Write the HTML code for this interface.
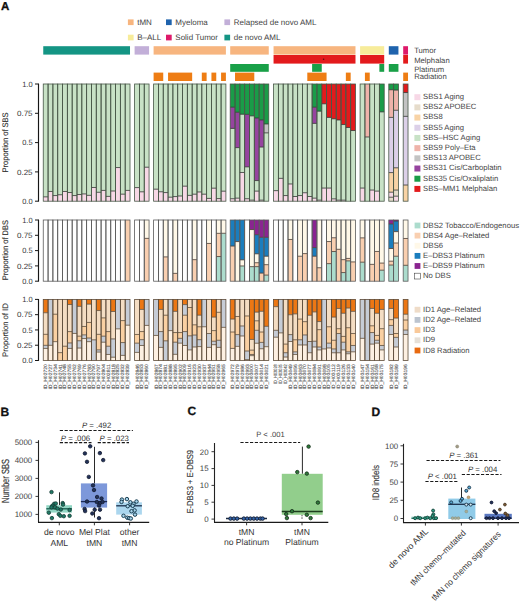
<!DOCTYPE html>
<html><head><meta charset="utf-8"><style>
html,body{margin:0;padding:0;background:#fff;}
body{width:520px;height:603px;overflow:hidden;font-family:"Liberation Sans", sans-serif;}
svg{display:block;text-rendering:geometricPrecision;}
text{stroke:none;}
text.sl{stroke:#5a5a5a;stroke-width:0.12px;}
text.pl{stroke:#111;stroke-width:0.3px;}
text.lt{fill:#363636;}
text.yl{stroke:#333;stroke-width:0.14px;}
</style></head><body>
<svg width="520" height="603" viewBox="0 0 520 603" font-family='"Liberation Sans", sans-serif'>
<rect width="520" height="603" fill="#fff"/>
<text x="1" y="9.8" font-size="11.5" font-weight="bold" class="pl" fill="#111">A</text>
<text x="0.6" y="415.7" font-size="12" font-weight="bold" class="pl" fill="#111">B</text>
<text x="187.4" y="415.4" font-size="12" font-weight="bold" class="pl" fill="#111">C</text>
<text x="371.4" y="415.5" font-size="12" font-weight="bold" class="pl" fill="#111">D</text>
<rect x="127.89999999999999" y="19.400000000000002" width="5.7" height="5.7" fill="#f7b57f"/>
<text x="137.2" y="25.1" font-size="8.0" fill="#444444">tMN</text>
<rect x="166.0" y="19.400000000000002" width="5.7" height="5.7" fill="#1f63ad"/>
<text x="175.29999999999998" y="25.1" font-size="8.0" fill="#444444">Myeloma</text>
<rect x="224.4" y="19.400000000000002" width="5.7" height="5.7" fill="#c2afd8"/>
<text x="233.7" y="25.1" font-size="8.0" fill="#444444">Relapsed de novo AML</text>
<rect x="127.89999999999999" y="34.7" width="5.7" height="5.7" fill="#f7ec9a"/>
<text x="137.2" y="40.4" font-size="8.0" fill="#444444">B–ALL</text>
<rect x="166.0" y="34.7" width="5.7" height="5.7" fill="#de1a6a"/>
<text x="175.29999999999998" y="40.4" font-size="8.0" fill="#444444">Solid Tumor</text>
<rect x="224.4" y="34.7" width="5.7" height="5.7" fill="#149584"/>
<text x="233.7" y="40.4" font-size="8.0" fill="#444444">de novo AML</text>
<rect x="43.25" y="46.2" width="86.76" height="8.40" fill="#149584"/>
<rect x="134.60" y="46.2" width="14.46" height="8.40" fill="#c2afd8"/>
<rect x="153.60" y="46.2" width="72.30" height="8.40" fill="#f7b57f"/>
<rect x="230.20" y="46.2" width="38.56" height="8.40" fill="#f7b57f"/>
<rect x="273.55" y="46.2" width="81.94" height="8.40" fill="#f7b57f"/>
<rect x="360.10" y="46.2" width="24.10" height="8.40" fill="#f7ec9a"/>
<rect x="388.80" y="46.2" width="9.64" height="8.40" fill="#1f63ad"/>
<rect x="403.20" y="46.2" width="4.82" height="8.40" fill="#de1a6a"/>
<rect x="273.55" y="55.0" width="81.94" height="8.60" fill="#e31a1c"/>
<rect x="360.10" y="55.0" width="24.10" height="8.60" fill="#e31a1c"/>
<rect x="403.20" y="55.0" width="4.82" height="8.60" fill="#e31a1c"/>
<circle cx="323.6" cy="59.2" r="0.8" fill="#5a1010"/>
<rect x="230.20" y="64.0" width="38.56" height="7.80" fill="#19a048"/>
<rect x="312.11" y="64.0" width="9.64" height="7.80" fill="#19a048"/>
<rect x="379.38" y="64.0" width="4.82" height="7.80" fill="#19a048"/>
<rect x="388.80" y="64.0" width="9.64" height="7.80" fill="#19a048"/>
<rect x="153.60" y="72.6" width="9.64" height="8.40" fill="#ee7d14"/>
<rect x="168.06" y="72.6" width="24.10" height="8.40" fill="#ee7d14"/>
<rect x="201.80" y="72.6" width="4.82" height="8.40" fill="#ee7d14"/>
<rect x="211.44" y="72.6" width="4.82" height="8.40" fill="#ee7d14"/>
<rect x="221.08" y="72.6" width="4.82" height="8.40" fill="#ee7d14"/>
<rect x="235.02" y="72.6" width="19.28" height="8.40" fill="#ee7d14"/>
<rect x="307.29" y="72.6" width="19.28" height="8.40" fill="#ee7d14"/>
<rect x="345.85" y="72.6" width="4.82" height="8.40" fill="#ee7d14"/>
<rect x="364.92" y="72.6" width="4.82" height="8.40" fill="#ee7d14"/>
<rect x="403.20" y="72.6" width="4.82" height="8.40" fill="#ee7d14"/>
<text x="414.2" y="53.2" font-size="7.7" fill="#444444">Tumor</text>
<text x="414.2" y="62.8" font-size="7.7" fill="#444444">Melphalan</text>
<text x="414.2" y="71.5" font-size="7.7" fill="#444444">Platinum</text>
<text x="414.2" y="79.2" font-size="7.7" fill="#444444">Radiation</text>
<rect x="43.25" y="196.86" width="4.82" height="4.34" fill="#f7d8e6"/><rect x="43.25" y="84.00" width="4.82" height="112.86" fill="#c8e2c6"/><rect x="48.07" y="191.47" width="4.82" height="9.73" fill="#f7d8e6"/><rect x="48.07" y="84.00" width="4.82" height="107.47" fill="#c8e2c6"/><rect x="52.89" y="195.57" width="4.82" height="5.63" fill="#f7d8e6"/><rect x="52.89" y="84.00" width="4.82" height="111.57" fill="#c8e2c6"/><rect x="57.71" y="194.75" width="4.82" height="6.45" fill="#f7d8e6"/><rect x="57.71" y="84.00" width="4.82" height="110.75" fill="#c8e2c6"/><rect x="62.53" y="191.47" width="4.82" height="9.73" fill="#f7d8e6"/><rect x="62.53" y="84.00" width="4.82" height="107.47" fill="#c8e2c6"/><rect x="67.35" y="192.53" width="4.82" height="8.67" fill="#f7d8e6"/><rect x="67.35" y="84.00" width="4.82" height="108.53" fill="#c8e2c6"/><rect x="72.17" y="195.57" width="4.82" height="5.63" fill="#f7d8e6"/><rect x="72.17" y="84.00" width="4.82" height="111.57" fill="#c8e2c6"/><rect x="76.99" y="194.52" width="4.82" height="6.68" fill="#f7d8e6"/><rect x="76.99" y="84.00" width="4.82" height="110.52" fill="#c8e2c6"/><rect x="81.81" y="193.93" width="4.82" height="7.27" fill="#f7d8e6"/><rect x="81.81" y="84.00" width="4.82" height="109.93" fill="#c8e2c6"/><rect x="86.63" y="195.34" width="4.82" height="5.86" fill="#f7d8e6"/><rect x="86.63" y="84.00" width="4.82" height="111.34" fill="#c8e2c6"/><rect x="91.45" y="187.49" width="4.82" height="13.71" fill="#f7d8e6"/><rect x="91.45" y="84.00" width="4.82" height="103.49" fill="#c8e2c6"/><rect x="96.27" y="192.29" width="4.82" height="8.91" fill="#f7d8e6"/><rect x="96.27" y="84.00" width="4.82" height="108.29" fill="#c8e2c6"/><rect x="101.09" y="190.42" width="4.82" height="10.78" fill="#f7d8e6"/><rect x="101.09" y="84.00" width="4.82" height="106.42" fill="#c8e2c6"/><rect x="105.91" y="196.39" width="4.82" height="4.81" fill="#f7d8e6"/><rect x="105.91" y="84.00" width="4.82" height="112.39" fill="#c8e2c6"/><rect x="110.73" y="191.00" width="4.82" height="10.20" fill="#f7d8e6"/><rect x="110.73" y="84.00" width="4.82" height="107.00" fill="#c8e2c6"/><rect x="115.55" y="167.56" width="4.82" height="33.64" fill="#f7d8e6"/><rect x="115.55" y="84.00" width="4.82" height="83.56" fill="#c8e2c6"/><rect x="120.37" y="194.17" width="4.82" height="7.03" fill="#f7d8e6"/><rect x="120.37" y="84.00" width="4.82" height="110.17" fill="#c8e2c6"/><rect x="125.19" y="190.42" width="4.82" height="10.78" fill="#f7d8e6"/><rect x="125.19" y="84.00" width="4.82" height="106.42" fill="#c8e2c6"/><rect x="134.60" y="187.60" width="4.82" height="13.60" fill="#f7d8e6"/><rect x="134.60" y="84.00" width="4.82" height="103.60" fill="#c8e2c6"/><rect x="139.42" y="191.82" width="4.82" height="9.38" fill="#f7d8e6"/><rect x="139.42" y="84.00" width="4.82" height="107.82" fill="#c8e2c6"/><rect x="144.24" y="167.21" width="4.82" height="33.99" fill="#f7d8e6"/><rect x="144.24" y="84.00" width="4.82" height="83.21" fill="#c8e2c6"/><rect x="153.60" y="189.18" width="4.82" height="12.02" fill="#f7d8e6"/><rect x="153.60" y="84.00" width="4.82" height="105.18" fill="#c8e2c6"/><rect x="158.42" y="191.78" width="4.82" height="9.42" fill="#f7d8e6"/><rect x="158.42" y="84.00" width="4.82" height="107.78" fill="#c8e2c6"/><rect x="163.24" y="192.59" width="4.82" height="8.61" fill="#f7d8e6"/><rect x="163.24" y="84.00" width="4.82" height="108.59" fill="#c8e2c6"/><rect x="168.06" y="197.19" width="4.82" height="4.01" fill="#f7d8e6"/><rect x="168.06" y="84.00" width="4.82" height="113.19" fill="#c8e2c6"/><rect x="172.88" y="196.59" width="4.82" height="4.61" fill="#f7d8e6"/><rect x="172.88" y="84.00" width="4.82" height="112.59" fill="#c8e2c6"/><rect x="177.70" y="195.99" width="4.82" height="5.21" fill="#f7d8e6"/><rect x="177.70" y="84.00" width="4.82" height="111.99" fill="#c8e2c6"/><rect x="182.52" y="186.17" width="4.82" height="15.03" fill="#f7d8e6"/><rect x="182.52" y="84.00" width="4.82" height="102.17" fill="#c8e2c6"/><rect x="187.34" y="195.39" width="4.82" height="5.81" fill="#f7d8e6"/><rect x="187.34" y="84.00" width="4.82" height="111.39" fill="#c8e2c6"/><rect x="192.16" y="194.19" width="4.82" height="7.01" fill="#f7d8e6"/><rect x="192.16" y="84.00" width="4.82" height="110.19" fill="#c8e2c6"/><rect x="196.98" y="191.98" width="4.82" height="9.22" fill="#f7d8e6"/><rect x="196.98" y="84.00" width="4.82" height="107.98" fill="#c8e2c6"/><rect x="201.80" y="194.19" width="4.82" height="7.01" fill="#f7d8e6"/><rect x="201.80" y="84.00" width="4.82" height="110.19" fill="#c8e2c6"/><rect x="206.62" y="198.40" width="4.82" height="2.80" fill="#f7d8e6"/><rect x="206.62" y="84.00" width="4.82" height="114.40" fill="#c8e2c6"/><rect x="211.44" y="188.18" width="4.82" height="13.02" fill="#f7d8e6"/><rect x="211.44" y="84.00" width="4.82" height="104.18" fill="#c8e2c6"/><rect x="216.26" y="198.60" width="4.82" height="2.60" fill="#f7d8e6"/><rect x="216.26" y="84.00" width="4.82" height="114.60" fill="#c8e2c6"/><rect x="221.08" y="191.18" width="4.82" height="10.02" fill="#f7d8e6"/><rect x="221.08" y="84.00" width="4.82" height="107.18" fill="#c8e2c6"/><rect x="230.20" y="198.74" width="4.82" height="2.46" fill="#f7d8e6"/><rect x="230.20" y="128.42" width="4.82" height="70.32" fill="#c8e2c6"/><rect x="230.20" y="107.21" width="4.82" height="21.21" fill="#96449f"/><rect x="230.20" y="84.00" width="4.82" height="23.21" fill="#1a9c48"/><rect x="235.02" y="198.15" width="4.82" height="3.05" fill="#f7d8e6"/><rect x="235.02" y="147.64" width="4.82" height="50.51" fill="#c8e2c6"/><rect x="235.02" y="112.25" width="4.82" height="35.39" fill="#96449f"/><rect x="235.02" y="84.00" width="4.82" height="28.25" fill="#1a9c48"/><rect x="239.84" y="172.49" width="4.82" height="28.71" fill="#f7d8e6"/><rect x="239.84" y="114.24" width="4.82" height="58.25" fill="#c8e2c6"/><rect x="239.84" y="84.00" width="4.82" height="30.24" fill="#1a9c48"/><rect x="244.66" y="198.74" width="4.82" height="2.46" fill="#f7d8e6"/><rect x="244.66" y="166.86" width="4.82" height="31.88" fill="#c8e2c6"/><rect x="244.66" y="114.35" width="4.82" height="52.51" fill="#96449f"/><rect x="244.66" y="84.00" width="4.82" height="30.35" fill="#1a9c48"/><rect x="249.48" y="200.15" width="4.82" height="1.05" fill="#f7d8e6"/><rect x="249.48" y="115.88" width="4.82" height="84.27" fill="#c8e2c6"/><rect x="249.48" y="84.00" width="4.82" height="31.88" fill="#1a9c48"/><rect x="254.30" y="191.12" width="4.82" height="10.08" fill="#f7d8e6"/><rect x="254.30" y="180.57" width="4.82" height="10.55" fill="#c8e2c6"/><rect x="254.30" y="117.99" width="4.82" height="62.58" fill="#96449f"/><rect x="254.30" y="84.00" width="4.82" height="33.99" fill="#1a9c48"/><rect x="259.12" y="200.15" width="4.82" height="1.05" fill="#f7d8e6"/><rect x="259.12" y="147.05" width="4.82" height="53.09" fill="#c8e2c6"/><rect x="259.12" y="119.98" width="4.82" height="27.07" fill="#96449f"/><rect x="259.12" y="84.00" width="4.82" height="35.98" fill="#1a9c48"/><rect x="263.94" y="132.87" width="4.82" height="68.33" fill="#c8e2c6"/><rect x="263.94" y="123.97" width="4.82" height="8.91" fill="#c3c3c3"/><rect x="263.94" y="84.00" width="4.82" height="39.97" fill="#1a9c48"/><rect x="273.55" y="190.65" width="4.82" height="10.55" fill="#f7d8e6"/><rect x="273.55" y="84.00" width="4.82" height="106.65" fill="#c8e2c6"/><rect x="278.37" y="178.35" width="4.82" height="22.85" fill="#f7d8e6"/><rect x="278.37" y="84.00" width="4.82" height="94.35" fill="#c8e2c6"/><rect x="283.19" y="195.57" width="4.82" height="5.63" fill="#f7d8e6"/><rect x="283.19" y="84.00" width="4.82" height="111.57" fill="#c8e2c6"/><rect x="288.01" y="183.97" width="4.82" height="17.23" fill="#f7d8e6"/><rect x="288.01" y="84.00" width="4.82" height="99.97" fill="#c8e2c6"/><rect x="292.83" y="196.51" width="4.82" height="4.69" fill="#f7d8e6"/><rect x="292.83" y="84.00" width="4.82" height="112.51" fill="#c8e2c6"/><rect x="297.65" y="195.57" width="4.82" height="5.63" fill="#f7d8e6"/><rect x="297.65" y="84.00" width="4.82" height="111.57" fill="#c8e2c6"/><rect x="302.47" y="192.76" width="4.82" height="8.44" fill="#f7d8e6"/><rect x="302.47" y="84.00" width="4.82" height="108.76" fill="#c8e2c6"/><rect x="307.29" y="196.51" width="4.82" height="4.69" fill="#f7d8e6"/><rect x="307.29" y="84.00" width="4.82" height="112.51" fill="#c8e2c6"/><rect x="312.11" y="198.15" width="4.82" height="3.05" fill="#f7d8e6"/><rect x="312.11" y="123.38" width="4.82" height="74.77" fill="#c8e2c6"/><rect x="312.11" y="107.21" width="4.82" height="16.17" fill="#96449f"/><rect x="312.11" y="84.00" width="4.82" height="23.21" fill="#1a9c48"/><rect x="316.93" y="200.15" width="4.82" height="1.05" fill="#f7d8e6"/><rect x="316.93" y="111.19" width="4.82" height="88.95" fill="#c8e2c6"/><rect x="316.93" y="84.00" width="4.82" height="27.19" fill="#1a9c48"/><rect x="321.75" y="188.07" width="4.82" height="13.13" fill="#f7d8e6"/><rect x="321.75" y="103.81" width="4.82" height="84.27" fill="#c8e2c6"/><rect x="321.75" y="84.00" width="4.82" height="19.81" fill="#e31a1c"/><rect x="326.57" y="188.07" width="4.82" height="13.13" fill="#f7d8e6"/><rect x="326.57" y="117.40" width="4.82" height="70.67" fill="#c8e2c6"/><rect x="326.57" y="84.00" width="4.82" height="33.40" fill="#e31a1c"/><rect x="331.39" y="198.86" width="4.82" height="2.34" fill="#f7d8e6"/><rect x="331.39" y="118.81" width="4.82" height="80.05" fill="#c8e2c6"/><rect x="331.39" y="84.00" width="4.82" height="34.81" fill="#e31a1c"/><rect x="336.21" y="200.15" width="4.82" height="1.05" fill="#f7d8e6"/><rect x="336.21" y="119.98" width="4.82" height="80.16" fill="#c8e2c6"/><rect x="336.21" y="84.00" width="4.82" height="35.98" fill="#e31a1c"/><rect x="341.03" y="200.15" width="4.82" height="1.05" fill="#f7d8e6"/><rect x="341.03" y="124.55" width="4.82" height="75.59" fill="#c8e2c6"/><rect x="341.03" y="84.00" width="4.82" height="40.55" fill="#e31a1c"/><rect x="345.85" y="127.48" width="4.82" height="73.72" fill="#c8e2c6"/><rect x="345.85" y="84.00" width="4.82" height="43.48" fill="#e31a1c"/><rect x="350.67" y="130.53" width="4.82" height="70.67" fill="#c8e2c6"/><rect x="350.67" y="84.00" width="4.82" height="46.53" fill="#e31a1c"/><rect x="360.10" y="188.07" width="4.82" height="13.13" fill="#f7d8e6"/><rect x="360.10" y="84.00" width="4.82" height="104.07" fill="#c8e2c6"/><rect x="364.92" y="136.97" width="4.82" height="64.23" fill="#c8e2c6"/><rect x="364.92" y="84.00" width="4.82" height="52.97" fill="#efb3aa"/><rect x="369.74" y="190.07" width="4.82" height="11.13" fill="#f7d8e6"/><rect x="369.74" y="84.00" width="4.82" height="106.07" fill="#c8e2c6"/><rect x="374.56" y="191.12" width="4.82" height="10.08" fill="#f7d8e6"/><rect x="374.56" y="84.00" width="4.82" height="107.12" fill="#c8e2c6"/><rect x="379.38" y="111.89" width="4.82" height="89.31" fill="#c8e2c6"/><rect x="379.38" y="84.00" width="4.82" height="27.89" fill="#1a9c48"/><rect x="388.80" y="197.22" width="4.82" height="3.98" fill="#e6dccb"/><rect x="388.80" y="192.18" width="4.82" height="5.04" fill="#f7d8e6"/><rect x="388.80" y="172.60" width="4.82" height="19.57" fill="#f8d3a6"/><rect x="388.80" y="117.40" width="4.82" height="55.20" fill="#dcd0e8"/><rect x="388.80" y="89.74" width="4.82" height="27.66" fill="#efb3aa"/><rect x="388.80" y="84.00" width="4.82" height="5.74" fill="#1a9c48"/><rect x="393.62" y="196.16" width="4.82" height="5.04" fill="#f7d8e6"/><rect x="393.62" y="190.07" width="4.82" height="6.09" fill="#e6dccb"/><rect x="393.62" y="167.80" width="4.82" height="22.27" fill="#f8d3a6"/><rect x="393.62" y="110.25" width="4.82" height="57.55" fill="#dcd0e8"/><rect x="393.62" y="90.09" width="4.82" height="20.16" fill="#efb3aa"/><rect x="393.62" y="84.00" width="4.82" height="6.09" fill="#1a9c48"/><rect x="403.20" y="185.03" width="4.82" height="16.17" fill="#f8d3a6"/><rect x="403.20" y="116.35" width="4.82" height="68.68" fill="#dcd0e8"/><rect x="403.20" y="92.56" width="4.82" height="23.79" fill="#c3c3c3"/><rect x="403.20" y="84.00" width="4.82" height="8.56" fill="#e31a1c"/><line x1="43.25" x2="48.07" y1="196.86" y2="196.86" stroke="#333" stroke-width="0.8"/><rect x="43.25" y="84.00" width="4.82" height="117.20" fill="none" stroke="#465646" stroke-width="0.8"/><line x1="48.07" x2="52.89" y1="191.47" y2="191.47" stroke="#333" stroke-width="0.8"/><rect x="48.07" y="84.00" width="4.82" height="117.20" fill="none" stroke="#465646" stroke-width="0.8"/><line x1="52.89" x2="57.71" y1="195.57" y2="195.57" stroke="#333" stroke-width="0.8"/><rect x="52.89" y="84.00" width="4.82" height="117.20" fill="none" stroke="#465646" stroke-width="0.8"/><line x1="57.71" x2="62.53" y1="194.75" y2="194.75" stroke="#333" stroke-width="0.8"/><rect x="57.71" y="84.00" width="4.82" height="117.20" fill="none" stroke="#465646" stroke-width="0.8"/><line x1="62.53" x2="67.35" y1="191.47" y2="191.47" stroke="#333" stroke-width="0.8"/><rect x="62.53" y="84.00" width="4.82" height="117.20" fill="none" stroke="#465646" stroke-width="0.8"/><line x1="67.35" x2="72.17" y1="192.53" y2="192.53" stroke="#333" stroke-width="0.8"/><rect x="67.35" y="84.00" width="4.82" height="117.20" fill="none" stroke="#465646" stroke-width="0.8"/><line x1="72.17" x2="76.99" y1="195.57" y2="195.57" stroke="#333" stroke-width="0.8"/><rect x="72.17" y="84.00" width="4.82" height="117.20" fill="none" stroke="#465646" stroke-width="0.8"/><line x1="76.99" x2="81.81" y1="194.52" y2="194.52" stroke="#333" stroke-width="0.8"/><rect x="76.99" y="84.00" width="4.82" height="117.20" fill="none" stroke="#465646" stroke-width="0.8"/><line x1="81.81" x2="86.63" y1="193.93" y2="193.93" stroke="#333" stroke-width="0.8"/><rect x="81.81" y="84.00" width="4.82" height="117.20" fill="none" stroke="#465646" stroke-width="0.8"/><line x1="86.63" x2="91.45" y1="195.34" y2="195.34" stroke="#333" stroke-width="0.8"/><rect x="86.63" y="84.00" width="4.82" height="117.20" fill="none" stroke="#465646" stroke-width="0.8"/><line x1="91.45" x2="96.27" y1="187.49" y2="187.49" stroke="#333" stroke-width="0.8"/><rect x="91.45" y="84.00" width="4.82" height="117.20" fill="none" stroke="#465646" stroke-width="0.8"/><line x1="96.27" x2="101.09" y1="192.29" y2="192.29" stroke="#333" stroke-width="0.8"/><rect x="96.27" y="84.00" width="4.82" height="117.20" fill="none" stroke="#465646" stroke-width="0.8"/><line x1="101.09" x2="105.91" y1="190.42" y2="190.42" stroke="#333" stroke-width="0.8"/><rect x="101.09" y="84.00" width="4.82" height="117.20" fill="none" stroke="#465646" stroke-width="0.8"/><line x1="105.91" x2="110.73" y1="196.39" y2="196.39" stroke="#333" stroke-width="0.8"/><rect x="105.91" y="84.00" width="4.82" height="117.20" fill="none" stroke="#465646" stroke-width="0.8"/><line x1="110.73" x2="115.55" y1="191.00" y2="191.00" stroke="#333" stroke-width="0.8"/><rect x="110.73" y="84.00" width="4.82" height="117.20" fill="none" stroke="#465646" stroke-width="0.8"/><line x1="115.55" x2="120.37" y1="167.56" y2="167.56" stroke="#333" stroke-width="0.8"/><rect x="115.55" y="84.00" width="4.82" height="117.20" fill="none" stroke="#465646" stroke-width="0.8"/><line x1="120.37" x2="125.19" y1="194.17" y2="194.17" stroke="#333" stroke-width="0.8"/><rect x="120.37" y="84.00" width="4.82" height="117.20" fill="none" stroke="#465646" stroke-width="0.8"/><line x1="125.19" x2="130.01" y1="190.42" y2="190.42" stroke="#333" stroke-width="0.8"/><rect x="125.19" y="84.00" width="4.82" height="117.20" fill="none" stroke="#465646" stroke-width="0.8"/><line x1="134.60" x2="139.42" y1="187.60" y2="187.60" stroke="#333" stroke-width="0.8"/><rect x="134.60" y="84.00" width="4.82" height="117.20" fill="none" stroke="#465646" stroke-width="0.8"/><line x1="139.42" x2="144.24" y1="191.82" y2="191.82" stroke="#333" stroke-width="0.8"/><rect x="139.42" y="84.00" width="4.82" height="117.20" fill="none" stroke="#465646" stroke-width="0.8"/><line x1="144.24" x2="149.06" y1="167.21" y2="167.21" stroke="#333" stroke-width="0.8"/><rect x="144.24" y="84.00" width="4.82" height="117.20" fill="none" stroke="#465646" stroke-width="0.8"/><line x1="153.60" x2="158.42" y1="189.18" y2="189.18" stroke="#333" stroke-width="0.8"/><rect x="153.60" y="84.00" width="4.82" height="117.20" fill="none" stroke="#465646" stroke-width="0.8"/><line x1="158.42" x2="163.24" y1="191.78" y2="191.78" stroke="#333" stroke-width="0.8"/><rect x="158.42" y="84.00" width="4.82" height="117.20" fill="none" stroke="#465646" stroke-width="0.8"/><line x1="163.24" x2="168.06" y1="192.59" y2="192.59" stroke="#333" stroke-width="0.8"/><rect x="163.24" y="84.00" width="4.82" height="117.20" fill="none" stroke="#465646" stroke-width="0.8"/><line x1="168.06" x2="172.88" y1="197.19" y2="197.19" stroke="#333" stroke-width="0.8"/><rect x="168.06" y="84.00" width="4.82" height="117.20" fill="none" stroke="#465646" stroke-width="0.8"/><line x1="172.88" x2="177.70" y1="196.59" y2="196.59" stroke="#333" stroke-width="0.8"/><rect x="172.88" y="84.00" width="4.82" height="117.20" fill="none" stroke="#465646" stroke-width="0.8"/><line x1="177.70" x2="182.52" y1="195.99" y2="195.99" stroke="#333" stroke-width="0.8"/><rect x="177.70" y="84.00" width="4.82" height="117.20" fill="none" stroke="#465646" stroke-width="0.8"/><line x1="182.52" x2="187.34" y1="186.17" y2="186.17" stroke="#333" stroke-width="0.8"/><rect x="182.52" y="84.00" width="4.82" height="117.20" fill="none" stroke="#465646" stroke-width="0.8"/><line x1="187.34" x2="192.16" y1="195.39" y2="195.39" stroke="#333" stroke-width="0.8"/><rect x="187.34" y="84.00" width="4.82" height="117.20" fill="none" stroke="#465646" stroke-width="0.8"/><line x1="192.16" x2="196.98" y1="194.19" y2="194.19" stroke="#333" stroke-width="0.8"/><rect x="192.16" y="84.00" width="4.82" height="117.20" fill="none" stroke="#465646" stroke-width="0.8"/><line x1="196.98" x2="201.80" y1="191.98" y2="191.98" stroke="#333" stroke-width="0.8"/><rect x="196.98" y="84.00" width="4.82" height="117.20" fill="none" stroke="#465646" stroke-width="0.8"/><line x1="201.80" x2="206.62" y1="194.19" y2="194.19" stroke="#333" stroke-width="0.8"/><rect x="201.80" y="84.00" width="4.82" height="117.20" fill="none" stroke="#465646" stroke-width="0.8"/><line x1="206.62" x2="211.44" y1="198.40" y2="198.40" stroke="#333" stroke-width="0.8"/><rect x="206.62" y="84.00" width="4.82" height="117.20" fill="none" stroke="#465646" stroke-width="0.8"/><line x1="211.44" x2="216.26" y1="188.18" y2="188.18" stroke="#333" stroke-width="0.8"/><rect x="211.44" y="84.00" width="4.82" height="117.20" fill="none" stroke="#465646" stroke-width="0.8"/><line x1="216.26" x2="221.08" y1="198.60" y2="198.60" stroke="#333" stroke-width="0.8"/><rect x="216.26" y="84.00" width="4.82" height="117.20" fill="none" stroke="#465646" stroke-width="0.8"/><line x1="221.08" x2="225.90" y1="191.18" y2="191.18" stroke="#333" stroke-width="0.8"/><rect x="221.08" y="84.00" width="4.82" height="117.20" fill="none" stroke="#465646" stroke-width="0.8"/><line x1="230.20" x2="235.02" y1="198.74" y2="198.74" stroke="#333" stroke-width="0.8"/><line x1="230.20" x2="235.02" y1="128.42" y2="128.42" stroke="#333" stroke-width="0.8"/><line x1="230.20" x2="235.02" y1="107.21" y2="107.21" stroke="#333" stroke-width="0.8"/><rect x="230.20" y="84.00" width="4.82" height="117.20" fill="none" stroke="#465646" stroke-width="0.8"/><line x1="235.02" x2="239.84" y1="198.15" y2="198.15" stroke="#333" stroke-width="0.8"/><line x1="235.02" x2="239.84" y1="147.64" y2="147.64" stroke="#333" stroke-width="0.8"/><line x1="235.02" x2="239.84" y1="112.25" y2="112.25" stroke="#333" stroke-width="0.8"/><rect x="235.02" y="84.00" width="4.82" height="117.20" fill="none" stroke="#465646" stroke-width="0.8"/><line x1="239.84" x2="244.66" y1="172.49" y2="172.49" stroke="#333" stroke-width="0.8"/><line x1="239.84" x2="244.66" y1="114.24" y2="114.24" stroke="#333" stroke-width="0.8"/><rect x="239.84" y="84.00" width="4.82" height="117.20" fill="none" stroke="#465646" stroke-width="0.8"/><line x1="244.66" x2="249.48" y1="198.74" y2="198.74" stroke="#333" stroke-width="0.8"/><line x1="244.66" x2="249.48" y1="166.86" y2="166.86" stroke="#333" stroke-width="0.8"/><line x1="244.66" x2="249.48" y1="114.35" y2="114.35" stroke="#333" stroke-width="0.8"/><rect x="244.66" y="84.00" width="4.82" height="117.20" fill="none" stroke="#465646" stroke-width="0.8"/><line x1="249.48" x2="254.30" y1="200.15" y2="200.15" stroke="#333" stroke-width="0.8"/><line x1="249.48" x2="254.30" y1="115.88" y2="115.88" stroke="#333" stroke-width="0.8"/><rect x="249.48" y="84.00" width="4.82" height="117.20" fill="none" stroke="#465646" stroke-width="0.8"/><line x1="254.30" x2="259.12" y1="191.12" y2="191.12" stroke="#333" stroke-width="0.8"/><line x1="254.30" x2="259.12" y1="180.57" y2="180.57" stroke="#333" stroke-width="0.8"/><line x1="254.30" x2="259.12" y1="117.99" y2="117.99" stroke="#333" stroke-width="0.8"/><rect x="254.30" y="84.00" width="4.82" height="117.20" fill="none" stroke="#465646" stroke-width="0.8"/><line x1="259.12" x2="263.94" y1="200.15" y2="200.15" stroke="#333" stroke-width="0.8"/><line x1="259.12" x2="263.94" y1="147.05" y2="147.05" stroke="#333" stroke-width="0.8"/><line x1="259.12" x2="263.94" y1="119.98" y2="119.98" stroke="#333" stroke-width="0.8"/><rect x="259.12" y="84.00" width="4.82" height="117.20" fill="none" stroke="#465646" stroke-width="0.8"/><line x1="263.94" x2="268.76" y1="132.87" y2="132.87" stroke="#333" stroke-width="0.8"/><line x1="263.94" x2="268.76" y1="123.97" y2="123.97" stroke="#333" stroke-width="0.8"/><rect x="263.94" y="84.00" width="4.82" height="117.20" fill="none" stroke="#465646" stroke-width="0.8"/><line x1="273.55" x2="278.37" y1="190.65" y2="190.65" stroke="#333" stroke-width="0.8"/><rect x="273.55" y="84.00" width="4.82" height="117.20" fill="none" stroke="#465646" stroke-width="0.8"/><line x1="278.37" x2="283.19" y1="178.35" y2="178.35" stroke="#333" stroke-width="0.8"/><rect x="278.37" y="84.00" width="4.82" height="117.20" fill="none" stroke="#465646" stroke-width="0.8"/><line x1="283.19" x2="288.01" y1="195.57" y2="195.57" stroke="#333" stroke-width="0.8"/><rect x="283.19" y="84.00" width="4.82" height="117.20" fill="none" stroke="#465646" stroke-width="0.8"/><line x1="288.01" x2="292.83" y1="183.97" y2="183.97" stroke="#333" stroke-width="0.8"/><rect x="288.01" y="84.00" width="4.82" height="117.20" fill="none" stroke="#465646" stroke-width="0.8"/><line x1="292.83" x2="297.65" y1="196.51" y2="196.51" stroke="#333" stroke-width="0.8"/><rect x="292.83" y="84.00" width="4.82" height="117.20" fill="none" stroke="#465646" stroke-width="0.8"/><line x1="297.65" x2="302.47" y1="195.57" y2="195.57" stroke="#333" stroke-width="0.8"/><rect x="297.65" y="84.00" width="4.82" height="117.20" fill="none" stroke="#465646" stroke-width="0.8"/><line x1="302.47" x2="307.29" y1="192.76" y2="192.76" stroke="#333" stroke-width="0.8"/><rect x="302.47" y="84.00" width="4.82" height="117.20" fill="none" stroke="#465646" stroke-width="0.8"/><line x1="307.29" x2="312.11" y1="196.51" y2="196.51" stroke="#333" stroke-width="0.8"/><rect x="307.29" y="84.00" width="4.82" height="117.20" fill="none" stroke="#465646" stroke-width="0.8"/><line x1="312.11" x2="316.93" y1="198.15" y2="198.15" stroke="#333" stroke-width="0.8"/><line x1="312.11" x2="316.93" y1="123.38" y2="123.38" stroke="#333" stroke-width="0.8"/><line x1="312.11" x2="316.93" y1="107.21" y2="107.21" stroke="#333" stroke-width="0.8"/><rect x="312.11" y="84.00" width="4.82" height="117.20" fill="none" stroke="#465646" stroke-width="0.8"/><line x1="316.93" x2="321.75" y1="200.15" y2="200.15" stroke="#333" stroke-width="0.8"/><line x1="316.93" x2="321.75" y1="111.19" y2="111.19" stroke="#333" stroke-width="0.8"/><rect x="316.93" y="84.00" width="4.82" height="117.20" fill="none" stroke="#465646" stroke-width="0.8"/><line x1="321.75" x2="326.57" y1="188.07" y2="188.07" stroke="#333" stroke-width="0.8"/><line x1="321.75" x2="326.57" y1="103.81" y2="103.81" stroke="#333" stroke-width="0.8"/><rect x="321.75" y="84.00" width="4.82" height="117.20" fill="none" stroke="#465646" stroke-width="0.8"/><line x1="326.57" x2="331.39" y1="188.07" y2="188.07" stroke="#333" stroke-width="0.8"/><line x1="326.57" x2="331.39" y1="117.40" y2="117.40" stroke="#333" stroke-width="0.8"/><rect x="326.57" y="84.00" width="4.82" height="117.20" fill="none" stroke="#465646" stroke-width="0.8"/><line x1="331.39" x2="336.21" y1="198.86" y2="198.86" stroke="#333" stroke-width="0.8"/><line x1="331.39" x2="336.21" y1="118.81" y2="118.81" stroke="#333" stroke-width="0.8"/><rect x="331.39" y="84.00" width="4.82" height="117.20" fill="none" stroke="#465646" stroke-width="0.8"/><line x1="336.21" x2="341.03" y1="200.15" y2="200.15" stroke="#333" stroke-width="0.8"/><line x1="336.21" x2="341.03" y1="119.98" y2="119.98" stroke="#333" stroke-width="0.8"/><rect x="336.21" y="84.00" width="4.82" height="117.20" fill="none" stroke="#465646" stroke-width="0.8"/><line x1="341.03" x2="345.85" y1="200.15" y2="200.15" stroke="#333" stroke-width="0.8"/><line x1="341.03" x2="345.85" y1="124.55" y2="124.55" stroke="#333" stroke-width="0.8"/><rect x="341.03" y="84.00" width="4.82" height="117.20" fill="none" stroke="#465646" stroke-width="0.8"/><line x1="345.85" x2="350.67" y1="127.48" y2="127.48" stroke="#333" stroke-width="0.8"/><rect x="345.85" y="84.00" width="4.82" height="117.20" fill="none" stroke="#465646" stroke-width="0.8"/><line x1="350.67" x2="355.49" y1="130.53" y2="130.53" stroke="#333" stroke-width="0.8"/><rect x="350.67" y="84.00" width="4.82" height="117.20" fill="none" stroke="#465646" stroke-width="0.8"/><line x1="360.10" x2="364.92" y1="188.07" y2="188.07" stroke="#333" stroke-width="0.8"/><rect x="360.10" y="84.00" width="4.82" height="117.20" fill="none" stroke="#465646" stroke-width="0.8"/><line x1="364.92" x2="369.74" y1="136.97" y2="136.97" stroke="#333" stroke-width="0.8"/><rect x="364.92" y="84.00" width="4.82" height="117.20" fill="none" stroke="#465646" stroke-width="0.8"/><line x1="369.74" x2="374.56" y1="190.07" y2="190.07" stroke="#333" stroke-width="0.8"/><rect x="369.74" y="84.00" width="4.82" height="117.20" fill="none" stroke="#465646" stroke-width="0.8"/><line x1="374.56" x2="379.38" y1="191.12" y2="191.12" stroke="#333" stroke-width="0.8"/><rect x="374.56" y="84.00" width="4.82" height="117.20" fill="none" stroke="#465646" stroke-width="0.8"/><line x1="379.38" x2="384.20" y1="111.89" y2="111.89" stroke="#333" stroke-width="0.8"/><rect x="379.38" y="84.00" width="4.82" height="117.20" fill="none" stroke="#465646" stroke-width="0.8"/><line x1="388.80" x2="393.62" y1="197.22" y2="197.22" stroke="#333" stroke-width="0.8"/><line x1="388.80" x2="393.62" y1="192.18" y2="192.18" stroke="#333" stroke-width="0.8"/><line x1="388.80" x2="393.62" y1="172.60" y2="172.60" stroke="#333" stroke-width="0.8"/><line x1="388.80" x2="393.62" y1="117.40" y2="117.40" stroke="#333" stroke-width="0.8"/><line x1="388.80" x2="393.62" y1="89.74" y2="89.74" stroke="#333" stroke-width="0.8"/><rect x="388.80" y="84.00" width="4.82" height="117.20" fill="none" stroke="#465646" stroke-width="0.8"/><line x1="393.62" x2="398.44" y1="196.16" y2="196.16" stroke="#333" stroke-width="0.8"/><line x1="393.62" x2="398.44" y1="190.07" y2="190.07" stroke="#333" stroke-width="0.8"/><line x1="393.62" x2="398.44" y1="167.80" y2="167.80" stroke="#333" stroke-width="0.8"/><line x1="393.62" x2="398.44" y1="110.25" y2="110.25" stroke="#333" stroke-width="0.8"/><line x1="393.62" x2="398.44" y1="90.09" y2="90.09" stroke="#333" stroke-width="0.8"/><rect x="393.62" y="84.00" width="4.82" height="117.20" fill="none" stroke="#465646" stroke-width="0.8"/><line x1="403.20" x2="408.02" y1="185.03" y2="185.03" stroke="#333" stroke-width="0.8"/><line x1="403.20" x2="408.02" y1="116.35" y2="116.35" stroke="#333" stroke-width="0.8"/><line x1="403.20" x2="408.02" y1="92.56" y2="92.56" stroke="#333" stroke-width="0.8"/><rect x="403.20" y="84.00" width="4.82" height="117.20" fill="none" stroke="#465646" stroke-width="0.8"/>
<line x1="38.5" x2="38.5" y1="83.6" y2="201.6" stroke="#161616" stroke-width="1.15"/><line x1="35.0" x2="38.5" y1="84.00" y2="84.00" stroke="#161616" stroke-width="1"/><text class="lt" x="32.6" y="86.74" font-size="7.6" text-anchor="end" textLength="10.4" lengthAdjust="spacingAndGlyphs" fill="#444444">1.0</text><line x1="35.0" x2="38.5" y1="113.30" y2="113.30" stroke="#161616" stroke-width="1"/><text class="lt" x="32.6" y="116.04" font-size="7.6" text-anchor="end" textLength="15.6" lengthAdjust="spacingAndGlyphs" fill="#444444">0.75</text><line x1="35.0" x2="38.5" y1="142.60" y2="142.60" stroke="#161616" stroke-width="1"/><text class="lt" x="32.6" y="145.34" font-size="7.6" text-anchor="end" textLength="10.4" lengthAdjust="spacingAndGlyphs" fill="#444444">0.5</text><line x1="35.0" x2="38.5" y1="171.90" y2="171.90" stroke="#161616" stroke-width="1"/><text class="lt" x="32.6" y="174.64" font-size="7.6" text-anchor="end" textLength="15.6" lengthAdjust="spacingAndGlyphs" fill="#444444">0.25</text><line x1="35.0" x2="38.5" y1="201.20" y2="201.20" stroke="#161616" stroke-width="1"/><text class="lt" x="32.6" y="203.94" font-size="7.6" text-anchor="end" textLength="10.4" lengthAdjust="spacingAndGlyphs" fill="#444444">0.0</text>
<text class="yl" transform="translate(8.1,142.4) rotate(-90)" font-size="8.0" text-anchor="middle" textLength="60" lengthAdjust="spacingAndGlyphs" fill="#383838">Proportion of SBS</text>
<rect x="414.4" y="94.20" width="6" height="6" fill="#f7d8e6"/>
<text x="423" y="99.10" font-size="7.7" fill="#444444">SBS1 Aging</text>
<rect x="414.4" y="104.39" width="6" height="6" fill="#e6dccb"/>
<text x="423" y="109.29" font-size="7.7" fill="#444444">SBS2 APOBEC</text>
<rect x="414.4" y="114.58" width="6" height="6" fill="#f8d3a6"/>
<text x="423" y="119.48" font-size="7.7" fill="#444444">SBS8</text>
<rect x="414.4" y="124.77" width="6" height="6" fill="#dcd0e8"/>
<text x="423" y="129.67" font-size="7.7" fill="#444444">SBS5 Aging</text>
<rect x="414.4" y="134.96" width="6" height="6" fill="#c8e2c6"/>
<text x="423" y="139.86" font-size="7.7" fill="#444444">SBS–HSC Aging</text>
<rect x="414.4" y="145.15" width="6" height="6" fill="#efb3aa"/>
<text x="423" y="150.05" font-size="7.7" fill="#444444">SBS9 Poly–Eta</text>
<rect x="414.4" y="155.34" width="6" height="6" fill="#c3c3c3"/>
<text x="423" y="160.24" font-size="7.7" fill="#444444">SBS13 APOBEC</text>
<rect x="414.4" y="165.53" width="6" height="6" fill="#96449f"/>
<text x="423" y="170.43" font-size="7.7" fill="#444444">SBS31 Cis/Carboplatin</text>
<rect x="414.4" y="175.72" width="6" height="6" fill="#1a9c48"/>
<text x="423" y="180.62" font-size="7.7" fill="#444444">SBS35 Cis/Oxaliplatin</text>
<rect x="414.4" y="185.91" width="6" height="6" fill="#e31a1c"/>
<text x="423" y="190.81" font-size="7.7" fill="#444444">SBS–MM1 Melphalan</text>
<rect x="43.25" y="220.00" width="4.82" height="61.20" fill="#ffffff"/><rect x="48.07" y="220.00" width="4.82" height="61.20" fill="#ffffff"/><rect x="52.89" y="220.00" width="4.82" height="61.20" fill="#ffffff"/><rect x="57.71" y="220.00" width="4.82" height="61.20" fill="#ffffff"/><rect x="62.53" y="220.00" width="4.82" height="61.20" fill="#ffffff"/><rect x="67.35" y="220.00" width="4.82" height="61.20" fill="#ffffff"/><rect x="72.17" y="220.00" width="4.82" height="61.20" fill="#ffffff"/><rect x="76.99" y="220.00" width="4.82" height="61.20" fill="#ffffff"/><rect x="81.81" y="220.00" width="4.82" height="61.20" fill="#ffffff"/><rect x="86.63" y="220.00" width="4.82" height="61.20" fill="#ffffff"/><rect x="91.45" y="220.00" width="4.82" height="61.20" fill="#ffffff"/><rect x="96.27" y="220.00" width="4.82" height="61.20" fill="#ffffff"/><rect x="101.09" y="220.00" width="4.82" height="61.20" fill="#ffffff"/><rect x="105.91" y="220.00" width="4.82" height="61.20" fill="#ffffff"/><rect x="110.73" y="220.00" width="4.82" height="61.20" fill="#ffffff"/><rect x="115.55" y="220.00" width="4.82" height="61.20" fill="#ffffff"/><rect x="120.37" y="220.00" width="4.82" height="61.20" fill="#ffffff"/><rect x="125.19" y="220.00" width="4.82" height="61.20" fill="#f9cfb0"/><rect x="134.60" y="220.00" width="4.82" height="61.20" fill="#ffffff"/><rect x="139.42" y="220.00" width="4.82" height="61.20" fill="#ffffff"/><rect x="144.24" y="238.36" width="4.82" height="42.84" fill="#f9cfb0"/><rect x="144.24" y="220.00" width="4.82" height="18.36" fill="#fff8e8"/><rect x="153.60" y="220.00" width="4.82" height="61.20" fill="#ffffff"/><rect x="158.42" y="220.00" width="4.82" height="61.20" fill="#ffffff"/><rect x="163.24" y="256.90" width="4.82" height="24.30" fill="#f9cfb0"/><rect x="163.24" y="220.00" width="4.82" height="36.90" fill="#fff8e8"/><rect x="168.06" y="220.00" width="4.82" height="61.20" fill="#ffffff"/><rect x="172.88" y="273.37" width="4.82" height="7.83" fill="#f9cfb0"/><rect x="172.88" y="220.00" width="4.82" height="53.37" fill="#fff8e8"/><rect x="177.70" y="220.00" width="4.82" height="61.20" fill="#ffffff"/><rect x="182.52" y="220.00" width="4.82" height="61.20" fill="#ffffff"/><rect x="187.34" y="220.00" width="4.82" height="61.20" fill="#ffffff"/><rect x="192.16" y="259.66" width="4.82" height="21.54" fill="#f9cfb0"/><rect x="192.16" y="220.00" width="4.82" height="39.66" fill="#fff8e8"/><rect x="196.98" y="220.00" width="4.82" height="61.20" fill="#ffffff"/><rect x="201.80" y="220.00" width="4.82" height="61.20" fill="#ffffff"/><rect x="206.62" y="243.44" width="4.82" height="37.76" fill="#f9cfb0"/><rect x="206.62" y="220.00" width="4.82" height="23.44" fill="#fff8e8"/><rect x="211.44" y="220.00" width="4.82" height="61.20" fill="#ffffff"/><rect x="216.26" y="256.54" width="4.82" height="24.66" fill="#acdccd"/><rect x="216.26" y="233.34" width="4.82" height="23.19" fill="#f9cfb0"/><rect x="216.26" y="220.00" width="4.82" height="13.34" fill="#fff8e8"/><rect x="221.08" y="233.28" width="4.82" height="47.92" fill="#acdccd"/><rect x="221.08" y="220.00" width="4.82" height="13.28" fill="#fff8e8"/><rect x="230.20" y="246.07" width="4.82" height="35.13" fill="#f9cfb0"/><rect x="230.20" y="220.00" width="4.82" height="26.07" fill="#1b7dbd"/><rect x="235.02" y="241.60" width="4.82" height="39.60" fill="#fff8e8"/><rect x="235.02" y="220.00" width="4.82" height="21.60" fill="#1b7dbd"/><rect x="239.84" y="265.96" width="4.82" height="15.24" fill="#acdccd"/><rect x="239.84" y="259.84" width="4.82" height="6.12" fill="#fff8e8"/><rect x="239.84" y="220.00" width="4.82" height="39.84" fill="#1b7dbd"/><rect x="244.66" y="220.00" width="4.82" height="61.20" fill="#ffffff"/><rect x="249.48" y="266.63" width="4.82" height="14.57" fill="#acdccd"/><rect x="249.48" y="229.55" width="4.82" height="37.09" fill="#fff8e8"/><rect x="249.48" y="220.00" width="4.82" height="9.55" fill="#8a2490"/><rect x="254.30" y="266.63" width="4.82" height="14.57" fill="#acdccd"/><rect x="254.30" y="262.72" width="4.82" height="3.92" fill="#f9cfb0"/><rect x="254.30" y="253.84" width="4.82" height="8.87" fill="#fff8e8"/><rect x="254.30" y="234.69" width="4.82" height="19.16" fill="#1b7dbd"/><rect x="254.30" y="220.00" width="4.82" height="14.69" fill="#8a2490"/><rect x="259.12" y="273.12" width="4.82" height="8.08" fill="#f9cfb0"/><rect x="259.12" y="237.32" width="4.82" height="35.80" fill="#1b7dbd"/><rect x="259.12" y="220.00" width="4.82" height="17.32" fill="#8a2490"/><rect x="263.94" y="275.08" width="4.82" height="6.12" fill="#acdccd"/><rect x="263.94" y="264.68" width="4.82" height="10.40" fill="#f9cfb0"/><rect x="263.94" y="256.23" width="4.82" height="8.45" fill="#fff8e8"/><rect x="263.94" y="237.32" width="4.82" height="18.91" fill="#1b7dbd"/><rect x="263.94" y="220.00" width="4.82" height="17.32" fill="#8a2490"/><rect x="273.55" y="220.00" width="4.82" height="61.20" fill="#ffffff"/><rect x="278.37" y="220.00" width="4.82" height="61.20" fill="#ffffff"/><rect x="283.19" y="220.00" width="4.82" height="61.20" fill="#ffffff"/><rect x="288.01" y="239.46" width="4.82" height="41.74" fill="#f9cfb0"/><rect x="288.01" y="220.00" width="4.82" height="19.46" fill="#fff8e8"/><rect x="292.83" y="220.00" width="4.82" height="61.20" fill="#ffffff"/><rect x="297.65" y="256.23" width="4.82" height="24.97" fill="#f9cfb0"/><rect x="297.65" y="220.00" width="4.82" height="36.23" fill="#fff8e8"/><rect x="302.47" y="253.60" width="4.82" height="27.60" fill="#f9cfb0"/><rect x="302.47" y="220.00" width="4.82" height="33.60" fill="#fff8e8"/><rect x="307.29" y="220.00" width="4.82" height="61.20" fill="#ffffff"/><rect x="312.11" y="256.23" width="4.82" height="24.97" fill="#f9cfb0"/><rect x="312.11" y="247.60" width="4.82" height="8.63" fill="#1b7dbd"/><rect x="312.11" y="220.00" width="4.82" height="27.60" fill="#8a2490"/><rect x="316.93" y="267.74" width="4.82" height="13.46" fill="#f9cfb0"/><rect x="316.93" y="220.00" width="4.82" height="47.74" fill="#fff8e8"/><rect x="321.75" y="220.00" width="4.82" height="61.20" fill="#ffffff"/><rect x="326.57" y="263.64" width="4.82" height="17.56" fill="#acdccd"/><rect x="326.57" y="241.54" width="4.82" height="22.09" fill="#f9cfb0"/><rect x="326.57" y="220.00" width="4.82" height="21.54" fill="#fff8e8"/><rect x="331.39" y="251.52" width="4.82" height="29.68" fill="#acdccd"/><rect x="331.39" y="237.75" width="4.82" height="13.77" fill="#f9cfb0"/><rect x="331.39" y="220.00" width="4.82" height="17.75" fill="#fff8e8"/><rect x="336.21" y="249.31" width="4.82" height="31.89" fill="#f9cfb0"/><rect x="336.21" y="220.00" width="4.82" height="29.31" fill="#fff8e8"/><rect x="341.03" y="272.57" width="4.82" height="8.63" fill="#acdccd"/><rect x="341.03" y="259.66" width="4.82" height="12.91" fill="#f9cfb0"/><rect x="341.03" y="220.00" width="4.82" height="39.66" fill="#fff8e8"/><rect x="345.85" y="260.88" width="4.82" height="20.32" fill="#acdccd"/><rect x="345.85" y="258.43" width="4.82" height="2.45" fill="#f9cfb0"/><rect x="345.85" y="220.00" width="4.82" height="38.43" fill="#fff8e8"/><rect x="350.67" y="261.92" width="4.82" height="19.28" fill="#f9cfb0"/><rect x="350.67" y="220.00" width="4.82" height="41.92" fill="#fff8e8"/><rect x="360.10" y="262.17" width="4.82" height="19.03" fill="#acdccd"/><rect x="360.10" y="237.87" width="4.82" height="24.30" fill="#f9cfb0"/><rect x="360.10" y="220.00" width="4.82" height="17.87" fill="#fff8e8"/><rect x="364.92" y="220.00" width="4.82" height="61.20" fill="#ffffff"/><rect x="369.74" y="264.37" width="4.82" height="16.83" fill="#f9cfb0"/><rect x="369.74" y="220.00" width="4.82" height="44.37" fill="#fff8e8"/><rect x="374.56" y="251.46" width="4.82" height="29.74" fill="#f9cfb0"/><rect x="374.56" y="220.00" width="4.82" height="31.46" fill="#fff8e8"/><rect x="379.38" y="270.18" width="4.82" height="11.02" fill="#acdccd"/><rect x="379.38" y="263.08" width="4.82" height="7.10" fill="#f9cfb0"/><rect x="379.38" y="220.00" width="4.82" height="43.08" fill="#fff8e8"/><rect x="388.80" y="265.04" width="4.82" height="16.16" fill="#acdccd"/><rect x="388.80" y="261.19" width="4.82" height="3.86" fill="#f9cfb0"/><rect x="388.80" y="248.52" width="4.82" height="12.67" fill="#fff8e8"/><rect x="388.80" y="223.92" width="4.82" height="24.60" fill="#1b7dbd"/><rect x="388.80" y="220.00" width="4.82" height="3.92" fill="#8a2490"/><rect x="393.62" y="256.23" width="4.82" height="24.97" fill="#acdccd"/><rect x="393.62" y="243.01" width="4.82" height="13.22" fill="#f9cfb0"/><rect x="393.62" y="231.63" width="4.82" height="11.38" fill="#fff8e8"/><rect x="393.62" y="221.04" width="4.82" height="10.59" fill="#1b7dbd"/><rect x="393.62" y="220.00" width="4.82" height="1.04" fill="#8a2490"/><rect x="403.20" y="265.29" width="4.82" height="15.91" fill="#acdccd"/><rect x="403.20" y="238.48" width="4.82" height="26.81" fill="#f9cfb0"/><rect x="403.20" y="220.00" width="4.82" height="18.48" fill="#fff8e8"/><rect x="43.25" y="220.00" width="4.82" height="61.20" fill="none" stroke="#5a5a5a" stroke-width="0.8"/><rect x="48.07" y="220.00" width="4.82" height="61.20" fill="none" stroke="#5a5a5a" stroke-width="0.8"/><rect x="52.89" y="220.00" width="4.82" height="61.20" fill="none" stroke="#5a5a5a" stroke-width="0.8"/><rect x="57.71" y="220.00" width="4.82" height="61.20" fill="none" stroke="#5a5a5a" stroke-width="0.8"/><rect x="62.53" y="220.00" width="4.82" height="61.20" fill="none" stroke="#5a5a5a" stroke-width="0.8"/><rect x="67.35" y="220.00" width="4.82" height="61.20" fill="none" stroke="#5a5a5a" stroke-width="0.8"/><rect x="72.17" y="220.00" width="4.82" height="61.20" fill="none" stroke="#5a5a5a" stroke-width="0.8"/><rect x="76.99" y="220.00" width="4.82" height="61.20" fill="none" stroke="#5a5a5a" stroke-width="0.8"/><rect x="81.81" y="220.00" width="4.82" height="61.20" fill="none" stroke="#5a5a5a" stroke-width="0.8"/><rect x="86.63" y="220.00" width="4.82" height="61.20" fill="none" stroke="#5a5a5a" stroke-width="0.8"/><rect x="91.45" y="220.00" width="4.82" height="61.20" fill="none" stroke="#5a5a5a" stroke-width="0.8"/><rect x="96.27" y="220.00" width="4.82" height="61.20" fill="none" stroke="#5a5a5a" stroke-width="0.8"/><rect x="101.09" y="220.00" width="4.82" height="61.20" fill="none" stroke="#5a5a5a" stroke-width="0.8"/><rect x="105.91" y="220.00" width="4.82" height="61.20" fill="none" stroke="#5a5a5a" stroke-width="0.8"/><rect x="110.73" y="220.00" width="4.82" height="61.20" fill="none" stroke="#5a5a5a" stroke-width="0.8"/><rect x="115.55" y="220.00" width="4.82" height="61.20" fill="none" stroke="#5a5a5a" stroke-width="0.8"/><rect x="120.37" y="220.00" width="4.82" height="61.20" fill="none" stroke="#5a5a5a" stroke-width="0.8"/><rect x="125.19" y="220.00" width="4.82" height="61.20" fill="none" stroke="#5a5a5a" stroke-width="0.8"/><rect x="134.60" y="220.00" width="4.82" height="61.20" fill="none" stroke="#5a5a5a" stroke-width="0.8"/><rect x="139.42" y="220.00" width="4.82" height="61.20" fill="none" stroke="#5a5a5a" stroke-width="0.8"/><line x1="144.24" x2="149.06" y1="238.36" y2="238.36" stroke="#4a3a30" stroke-width="0.8"/><rect x="144.24" y="220.00" width="4.82" height="61.20" fill="none" stroke="#5a5a5a" stroke-width="0.8"/><rect x="153.60" y="220.00" width="4.82" height="61.20" fill="none" stroke="#5a5a5a" stroke-width="0.8"/><rect x="158.42" y="220.00" width="4.82" height="61.20" fill="none" stroke="#5a5a5a" stroke-width="0.8"/><line x1="163.24" x2="168.06" y1="256.90" y2="256.90" stroke="#4a3a30" stroke-width="0.8"/><rect x="163.24" y="220.00" width="4.82" height="61.20" fill="none" stroke="#5a5a5a" stroke-width="0.8"/><rect x="168.06" y="220.00" width="4.82" height="61.20" fill="none" stroke="#5a5a5a" stroke-width="0.8"/><line x1="172.88" x2="177.70" y1="273.37" y2="273.37" stroke="#4a3a30" stroke-width="0.8"/><rect x="172.88" y="220.00" width="4.82" height="61.20" fill="none" stroke="#5a5a5a" stroke-width="0.8"/><rect x="177.70" y="220.00" width="4.82" height="61.20" fill="none" stroke="#5a5a5a" stroke-width="0.8"/><rect x="182.52" y="220.00" width="4.82" height="61.20" fill="none" stroke="#5a5a5a" stroke-width="0.8"/><rect x="187.34" y="220.00" width="4.82" height="61.20" fill="none" stroke="#5a5a5a" stroke-width="0.8"/><line x1="192.16" x2="196.98" y1="259.66" y2="259.66" stroke="#4a3a30" stroke-width="0.8"/><rect x="192.16" y="220.00" width="4.82" height="61.20" fill="none" stroke="#5a5a5a" stroke-width="0.8"/><rect x="196.98" y="220.00" width="4.82" height="61.20" fill="none" stroke="#5a5a5a" stroke-width="0.8"/><rect x="201.80" y="220.00" width="4.82" height="61.20" fill="none" stroke="#5a5a5a" stroke-width="0.8"/><line x1="206.62" x2="211.44" y1="243.44" y2="243.44" stroke="#4a3a30" stroke-width="0.8"/><rect x="206.62" y="220.00" width="4.82" height="61.20" fill="none" stroke="#5a5a5a" stroke-width="0.8"/><rect x="211.44" y="220.00" width="4.82" height="61.20" fill="none" stroke="#5a5a5a" stroke-width="0.8"/><line x1="216.26" x2="221.08" y1="256.54" y2="256.54" stroke="#4a3a30" stroke-width="0.8"/><line x1="216.26" x2="221.08" y1="233.34" y2="233.34" stroke="#4a3a30" stroke-width="0.8"/><rect x="216.26" y="220.00" width="4.82" height="61.20" fill="none" stroke="#5a5a5a" stroke-width="0.8"/><line x1="221.08" x2="225.90" y1="233.28" y2="233.28" stroke="#4a3a30" stroke-width="0.8"/><rect x="221.08" y="220.00" width="4.82" height="61.20" fill="none" stroke="#5a5a5a" stroke-width="0.8"/><line x1="230.20" x2="235.02" y1="246.07" y2="246.07" stroke="#4a3a30" stroke-width="0.8"/><rect x="230.20" y="220.00" width="4.82" height="61.20" fill="none" stroke="#5a5a5a" stroke-width="0.8"/><line x1="235.02" x2="239.84" y1="241.60" y2="241.60" stroke="#4a3a30" stroke-width="0.8"/><rect x="235.02" y="220.00" width="4.82" height="61.20" fill="none" stroke="#5a5a5a" stroke-width="0.8"/><line x1="239.84" x2="244.66" y1="265.96" y2="265.96" stroke="#4a3a30" stroke-width="0.8"/><line x1="239.84" x2="244.66" y1="259.84" y2="259.84" stroke="#4a3a30" stroke-width="0.8"/><rect x="239.84" y="220.00" width="4.82" height="61.20" fill="none" stroke="#5a5a5a" stroke-width="0.8"/><rect x="244.66" y="220.00" width="4.82" height="61.20" fill="none" stroke="#5a5a5a" stroke-width="0.8"/><line x1="249.48" x2="254.30" y1="266.63" y2="266.63" stroke="#4a3a30" stroke-width="0.8"/><line x1="249.48" x2="254.30" y1="229.55" y2="229.55" stroke="#4a3a30" stroke-width="0.8"/><rect x="249.48" y="220.00" width="4.82" height="61.20" fill="none" stroke="#5a5a5a" stroke-width="0.8"/><line x1="254.30" x2="259.12" y1="266.63" y2="266.63" stroke="#4a3a30" stroke-width="0.8"/><line x1="254.30" x2="259.12" y1="262.72" y2="262.72" stroke="#4a3a30" stroke-width="0.8"/><line x1="254.30" x2="259.12" y1="253.84" y2="253.84" stroke="#4a3a30" stroke-width="0.8"/><line x1="254.30" x2="259.12" y1="234.69" y2="234.69" stroke="#4a3a30" stroke-width="0.8"/><rect x="254.30" y="220.00" width="4.82" height="61.20" fill="none" stroke="#5a5a5a" stroke-width="0.8"/><line x1="259.12" x2="263.94" y1="273.12" y2="273.12" stroke="#4a3a30" stroke-width="0.8"/><line x1="259.12" x2="263.94" y1="237.32" y2="237.32" stroke="#4a3a30" stroke-width="0.8"/><rect x="259.12" y="220.00" width="4.82" height="61.20" fill="none" stroke="#5a5a5a" stroke-width="0.8"/><line x1="263.94" x2="268.76" y1="275.08" y2="275.08" stroke="#4a3a30" stroke-width="0.8"/><line x1="263.94" x2="268.76" y1="264.68" y2="264.68" stroke="#4a3a30" stroke-width="0.8"/><line x1="263.94" x2="268.76" y1="256.23" y2="256.23" stroke="#4a3a30" stroke-width="0.8"/><line x1="263.94" x2="268.76" y1="237.32" y2="237.32" stroke="#4a3a30" stroke-width="0.8"/><rect x="263.94" y="220.00" width="4.82" height="61.20" fill="none" stroke="#5a5a5a" stroke-width="0.8"/><rect x="273.55" y="220.00" width="4.82" height="61.20" fill="none" stroke="#5a5a5a" stroke-width="0.8"/><rect x="278.37" y="220.00" width="4.82" height="61.20" fill="none" stroke="#5a5a5a" stroke-width="0.8"/><rect x="283.19" y="220.00" width="4.82" height="61.20" fill="none" stroke="#5a5a5a" stroke-width="0.8"/><line x1="288.01" x2="292.83" y1="239.46" y2="239.46" stroke="#4a3a30" stroke-width="0.8"/><rect x="288.01" y="220.00" width="4.82" height="61.20" fill="none" stroke="#5a5a5a" stroke-width="0.8"/><rect x="292.83" y="220.00" width="4.82" height="61.20" fill="none" stroke="#5a5a5a" stroke-width="0.8"/><line x1="297.65" x2="302.47" y1="256.23" y2="256.23" stroke="#4a3a30" stroke-width="0.8"/><rect x="297.65" y="220.00" width="4.82" height="61.20" fill="none" stroke="#5a5a5a" stroke-width="0.8"/><line x1="302.47" x2="307.29" y1="253.60" y2="253.60" stroke="#4a3a30" stroke-width="0.8"/><rect x="302.47" y="220.00" width="4.82" height="61.20" fill="none" stroke="#5a5a5a" stroke-width="0.8"/><rect x="307.29" y="220.00" width="4.82" height="61.20" fill="none" stroke="#5a5a5a" stroke-width="0.8"/><line x1="312.11" x2="316.93" y1="256.23" y2="256.23" stroke="#4a3a30" stroke-width="0.8"/><line x1="312.11" x2="316.93" y1="247.60" y2="247.60" stroke="#4a3a30" stroke-width="0.8"/><rect x="312.11" y="220.00" width="4.82" height="61.20" fill="none" stroke="#5a5a5a" stroke-width="0.8"/><line x1="316.93" x2="321.75" y1="267.74" y2="267.74" stroke="#4a3a30" stroke-width="0.8"/><rect x="316.93" y="220.00" width="4.82" height="61.20" fill="none" stroke="#5a5a5a" stroke-width="0.8"/><rect x="321.75" y="220.00" width="4.82" height="61.20" fill="none" stroke="#5a5a5a" stroke-width="0.8"/><line x1="326.57" x2="331.39" y1="263.64" y2="263.64" stroke="#4a3a30" stroke-width="0.8"/><line x1="326.57" x2="331.39" y1="241.54" y2="241.54" stroke="#4a3a30" stroke-width="0.8"/><rect x="326.57" y="220.00" width="4.82" height="61.20" fill="none" stroke="#5a5a5a" stroke-width="0.8"/><line x1="331.39" x2="336.21" y1="251.52" y2="251.52" stroke="#4a3a30" stroke-width="0.8"/><line x1="331.39" x2="336.21" y1="237.75" y2="237.75" stroke="#4a3a30" stroke-width="0.8"/><rect x="331.39" y="220.00" width="4.82" height="61.20" fill="none" stroke="#5a5a5a" stroke-width="0.8"/><line x1="336.21" x2="341.03" y1="249.31" y2="249.31" stroke="#4a3a30" stroke-width="0.8"/><rect x="336.21" y="220.00" width="4.82" height="61.20" fill="none" stroke="#5a5a5a" stroke-width="0.8"/><line x1="341.03" x2="345.85" y1="272.57" y2="272.57" stroke="#4a3a30" stroke-width="0.8"/><line x1="341.03" x2="345.85" y1="259.66" y2="259.66" stroke="#4a3a30" stroke-width="0.8"/><rect x="341.03" y="220.00" width="4.82" height="61.20" fill="none" stroke="#5a5a5a" stroke-width="0.8"/><line x1="345.85" x2="350.67" y1="260.88" y2="260.88" stroke="#4a3a30" stroke-width="0.8"/><line x1="345.85" x2="350.67" y1="258.43" y2="258.43" stroke="#4a3a30" stroke-width="0.8"/><rect x="345.85" y="220.00" width="4.82" height="61.20" fill="none" stroke="#5a5a5a" stroke-width="0.8"/><line x1="350.67" x2="355.49" y1="261.92" y2="261.92" stroke="#4a3a30" stroke-width="0.8"/><rect x="350.67" y="220.00" width="4.82" height="61.20" fill="none" stroke="#5a5a5a" stroke-width="0.8"/><line x1="360.10" x2="364.92" y1="262.17" y2="262.17" stroke="#4a3a30" stroke-width="0.8"/><line x1="360.10" x2="364.92" y1="237.87" y2="237.87" stroke="#4a3a30" stroke-width="0.8"/><rect x="360.10" y="220.00" width="4.82" height="61.20" fill="none" stroke="#5a5a5a" stroke-width="0.8"/><rect x="364.92" y="220.00" width="4.82" height="61.20" fill="none" stroke="#5a5a5a" stroke-width="0.8"/><line x1="369.74" x2="374.56" y1="264.37" y2="264.37" stroke="#4a3a30" stroke-width="0.8"/><rect x="369.74" y="220.00" width="4.82" height="61.20" fill="none" stroke="#5a5a5a" stroke-width="0.8"/><line x1="374.56" x2="379.38" y1="251.46" y2="251.46" stroke="#4a3a30" stroke-width="0.8"/><rect x="374.56" y="220.00" width="4.82" height="61.20" fill="none" stroke="#5a5a5a" stroke-width="0.8"/><line x1="379.38" x2="384.20" y1="270.18" y2="270.18" stroke="#4a3a30" stroke-width="0.8"/><line x1="379.38" x2="384.20" y1="263.08" y2="263.08" stroke="#4a3a30" stroke-width="0.8"/><rect x="379.38" y="220.00" width="4.82" height="61.20" fill="none" stroke="#5a5a5a" stroke-width="0.8"/><line x1="388.80" x2="393.62" y1="265.04" y2="265.04" stroke="#4a3a30" stroke-width="0.8"/><line x1="388.80" x2="393.62" y1="261.19" y2="261.19" stroke="#4a3a30" stroke-width="0.8"/><line x1="388.80" x2="393.62" y1="248.52" y2="248.52" stroke="#4a3a30" stroke-width="0.8"/><line x1="388.80" x2="393.62" y1="223.92" y2="223.92" stroke="#4a3a30" stroke-width="0.8"/><rect x="388.80" y="220.00" width="4.82" height="61.20" fill="none" stroke="#5a5a5a" stroke-width="0.8"/><line x1="393.62" x2="398.44" y1="256.23" y2="256.23" stroke="#4a3a30" stroke-width="0.8"/><line x1="393.62" x2="398.44" y1="243.01" y2="243.01" stroke="#4a3a30" stroke-width="0.8"/><line x1="393.62" x2="398.44" y1="231.63" y2="231.63" stroke="#4a3a30" stroke-width="0.8"/><line x1="393.62" x2="398.44" y1="221.04" y2="221.04" stroke="#4a3a30" stroke-width="0.8"/><rect x="393.62" y="220.00" width="4.82" height="61.20" fill="none" stroke="#5a5a5a" stroke-width="0.8"/><line x1="403.20" x2="408.02" y1="265.29" y2="265.29" stroke="#4a3a30" stroke-width="0.8"/><line x1="403.20" x2="408.02" y1="238.48" y2="238.48" stroke="#4a3a30" stroke-width="0.8"/><rect x="403.20" y="220.00" width="4.82" height="61.20" fill="none" stroke="#5a5a5a" stroke-width="0.8"/>
<line x1="38.5" x2="38.5" y1="219.6" y2="281.59999999999997" stroke="#161616" stroke-width="1.15"/><line x1="35.0" x2="38.5" y1="220.00" y2="220.00" stroke="#161616" stroke-width="1"/><text class="lt" x="32.6" y="222.74" font-size="7.6" text-anchor="end" textLength="10.4" lengthAdjust="spacingAndGlyphs" fill="#444444">1.0</text><line x1="35.0" x2="38.5" y1="235.30" y2="235.30" stroke="#161616" stroke-width="1"/><text class="lt" x="32.6" y="238.04" font-size="7.6" text-anchor="end" textLength="15.6" lengthAdjust="spacingAndGlyphs" fill="#444444">0.75</text><line x1="35.0" x2="38.5" y1="250.60" y2="250.60" stroke="#161616" stroke-width="1"/><text class="lt" x="32.6" y="253.34" font-size="7.6" text-anchor="end" textLength="10.4" lengthAdjust="spacingAndGlyphs" fill="#444444">0.5</text><line x1="35.0" x2="38.5" y1="265.90" y2="265.90" stroke="#161616" stroke-width="1"/><text class="lt" x="32.6" y="268.64" font-size="7.6" text-anchor="end" textLength="15.6" lengthAdjust="spacingAndGlyphs" fill="#444444">0.25</text><line x1="35.0" x2="38.5" y1="281.20" y2="281.20" stroke="#161616" stroke-width="1"/><text class="lt" x="32.6" y="283.94" font-size="7.6" text-anchor="end" textLength="10.4" lengthAdjust="spacingAndGlyphs" fill="#444444">0.0</text>
<text class="yl" transform="translate(8.1,250.2) rotate(-90)" font-size="8.0" text-anchor="middle" textLength="60.3" lengthAdjust="spacingAndGlyphs" fill="#383838">Proportion of DBS</text>
<rect x="414.6" y="222.60" width="5.8" height="5.8" fill="#acdccd"/>
<text x="423" y="227.50" font-size="7.7" fill="#444444">DBS2 Tobacco/Endogenous</text>
<rect x="414.6" y="232.72" width="5.8" height="5.8" fill="#f9cfb0"/>
<text x="423" y="237.62" font-size="7.7" fill="#444444">DBS4 Age–Related</text>
<rect x="414.6" y="242.84" width="5.8" height="5.8" fill="#fff8e8"/>
<text x="423" y="247.74" font-size="7.7" fill="#444444">DBS6</text>
<rect x="414.6" y="252.96" width="5.8" height="5.8" fill="#1b7dbd"/>
<text x="423" y="257.86" font-size="7.7" fill="#444444">E–DBS3 Platinum</text>
<rect x="414.6" y="263.08" width="5.8" height="5.8" fill="#8a2490"/>
<text x="423" y="267.98" font-size="7.7" fill="#444444">E–DBS9 Platinum</text>
<rect x="414.6" y="273.20" width="5.8" height="5.8" fill="#ffffff" stroke="#444" stroke-width="0.6"/>
<text x="423" y="278.10" font-size="7.7" fill="#444444">No DBS</text>
<rect x="43.25" y="299.40" width="4.82" height="13.35" fill="#ec7714"/><rect x="43.25" y="312.75" width="4.82" height="21.59" fill="#f4ddc3"/><rect x="43.25" y="334.34" width="4.82" height="10.98" fill="#fad0a2"/><rect x="43.25" y="345.32" width="4.82" height="3.11" fill="#c6ccd6"/><rect x="43.25" y="348.43" width="4.82" height="12.07" fill="#fdf0e2"/><rect x="48.07" y="299.40" width="4.82" height="45.92" fill="#c6ccd6"/><rect x="48.07" y="345.32" width="4.82" height="15.18" fill="#fdf0e2"/><rect x="52.89" y="299.40" width="4.82" height="14.82" fill="#f4ddc3"/><rect x="52.89" y="314.22" width="4.82" height="27.44" fill="#fad0a2"/><rect x="52.89" y="341.66" width="4.82" height="18.84" fill="#fdf0e2"/><rect x="57.71" y="299.40" width="4.82" height="53.23" fill="#f4ddc3"/><rect x="57.71" y="352.63" width="4.82" height="7.87" fill="#fad0a2"/><rect x="62.53" y="299.40" width="4.82" height="46.83" fill="#f4ddc3"/><rect x="62.53" y="346.23" width="4.82" height="14.27" fill="#fad0a2"/><rect x="67.35" y="299.40" width="4.82" height="5.12" fill="#ec7714"/><rect x="67.35" y="304.52" width="4.82" height="27.07" fill="#f4ddc3"/><rect x="67.35" y="331.60" width="4.82" height="11.34" fill="#fad0a2"/><rect x="67.35" y="342.94" width="4.82" height="5.49" fill="#c6ccd6"/><rect x="67.35" y="348.43" width="4.82" height="12.07" fill="#fdf0e2"/><rect x="72.17" y="299.40" width="4.82" height="34.03" fill="#c6ccd6"/><rect x="72.17" y="333.43" width="4.82" height="27.07" fill="#fdf0e2"/><rect x="76.99" y="299.40" width="4.82" height="6.95" fill="#ec7714"/><rect x="76.99" y="306.35" width="4.82" height="29.82" fill="#f4ddc3"/><rect x="76.99" y="336.17" width="4.82" height="4.57" fill="#fad0a2"/><rect x="76.99" y="340.74" width="4.82" height="7.32" fill="#c6ccd6"/><rect x="76.99" y="348.06" width="4.82" height="12.44" fill="#fdf0e2"/><rect x="81.81" y="299.40" width="4.82" height="27.07" fill="#f4ddc3"/><rect x="81.81" y="326.47" width="4.82" height="8.41" fill="#fad0a2"/><rect x="81.81" y="334.89" width="4.82" height="3.66" fill="#c6ccd6"/><rect x="81.81" y="338.55" width="4.82" height="21.95" fill="#fdf0e2"/><rect x="86.63" y="299.40" width="4.82" height="4.76" fill="#ec7714"/><rect x="86.63" y="304.16" width="4.82" height="18.29" fill="#f4ddc3"/><rect x="86.63" y="322.45" width="4.82" height="15.55" fill="#fad0a2"/><rect x="86.63" y="338.00" width="4.82" height="3.66" fill="#c6ccd6"/><rect x="86.63" y="341.66" width="4.82" height="18.84" fill="#fdf0e2"/><rect x="91.45" y="299.40" width="4.82" height="40.43" fill="#f4ddc3"/><rect x="91.45" y="339.83" width="4.82" height="20.67" fill="#c6ccd6"/><rect x="96.27" y="299.40" width="4.82" height="11.16" fill="#ec7714"/><rect x="96.27" y="310.56" width="4.82" height="23.78" fill="#f4ddc3"/><rect x="96.27" y="334.34" width="4.82" height="15.55" fill="#fad0a2"/><rect x="96.27" y="349.89" width="4.82" height="2.20" fill="#c6ccd6"/><rect x="96.27" y="352.09" width="4.82" height="8.41" fill="#fdf0e2"/><rect x="101.09" y="299.40" width="4.82" height="18.48" fill="#f4ddc3"/><rect x="101.09" y="317.88" width="4.82" height="18.29" fill="#fad0a2"/><rect x="101.09" y="336.17" width="4.82" height="6.04" fill="#c6ccd6"/><rect x="101.09" y="342.21" width="4.82" height="18.29" fill="#fdf0e2"/><rect x="105.91" y="299.40" width="4.82" height="32.20" fill="#f4ddc3"/><rect x="105.91" y="331.60" width="4.82" height="14.63" fill="#fad0a2"/><rect x="105.91" y="346.23" width="4.82" height="8.23" fill="#c6ccd6"/><rect x="105.91" y="354.46" width="4.82" height="6.04" fill="#fdf0e2"/><rect x="110.73" y="299.40" width="4.82" height="12.07" fill="#ec7714"/><rect x="110.73" y="311.47" width="4.82" height="27.44" fill="#f4ddc3"/><rect x="110.73" y="338.91" width="4.82" height="18.29" fill="#c6ccd6"/><rect x="110.73" y="357.21" width="4.82" height="3.29" fill="#fdf0e2"/><rect x="115.55" y="299.40" width="4.82" height="29.45" fill="#c6ccd6"/><rect x="115.55" y="328.85" width="4.82" height="31.65" fill="#fdf0e2"/><rect x="120.37" y="299.40" width="4.82" height="21.22" fill="#f4ddc3"/><rect x="120.37" y="320.62" width="4.82" height="21.95" fill="#fad0a2"/><rect x="120.37" y="342.57" width="4.82" height="12.81" fill="#c6ccd6"/><rect x="120.37" y="355.38" width="4.82" height="5.12" fill="#fdf0e2"/><rect x="125.19" y="299.40" width="4.82" height="25.79" fill="#c6ccd6"/><rect x="125.19" y="325.19" width="4.82" height="35.31" fill="#fdf0e2"/><rect x="134.60" y="299.40" width="4.82" height="35.08" fill="#f4ddc3"/><rect x="134.60" y="334.48" width="4.82" height="8.67" fill="#fad0a2"/><rect x="134.60" y="343.15" width="4.82" height="9.25" fill="#c6ccd6"/><rect x="134.60" y="352.40" width="4.82" height="8.10" fill="#fdf0e2"/><rect x="139.42" y="299.40" width="4.82" height="10.02" fill="#ec7714"/><rect x="139.42" y="309.42" width="4.82" height="22.17" fill="#f4ddc3"/><rect x="139.42" y="331.59" width="4.82" height="8.10" fill="#fad0a2"/><rect x="139.42" y="339.68" width="4.82" height="5.78" fill="#c6ccd6"/><rect x="139.42" y="345.47" width="4.82" height="15.03" fill="#fdf0e2"/><rect x="144.24" y="299.40" width="4.82" height="26.02" fill="#c6ccd6"/><rect x="144.24" y="325.42" width="4.82" height="35.08" fill="#fdf0e2"/><rect x="153.60" y="299.40" width="4.82" height="36.04" fill="#c6ccd6"/><rect x="153.60" y="335.44" width="4.82" height="25.06" fill="#fdf0e2"/><rect x="158.42" y="299.40" width="4.82" height="10.02" fill="#ec7714"/><rect x="158.42" y="309.42" width="4.82" height="22.17" fill="#f4ddc3"/><rect x="158.42" y="331.59" width="4.82" height="15.81" fill="#c6ccd6"/><rect x="158.42" y="347.39" width="4.82" height="13.11" fill="#fdf0e2"/><rect x="163.24" y="299.40" width="4.82" height="15.81" fill="#f4ddc3"/><rect x="163.24" y="315.21" width="4.82" height="25.64" fill="#fad0a2"/><rect x="163.24" y="340.84" width="4.82" height="19.66" fill="#c6ccd6"/><rect x="168.06" y="299.40" width="4.82" height="31.22" fill="#c6ccd6"/><rect x="168.06" y="330.62" width="4.82" height="29.88" fill="#fdf0e2"/><rect x="172.88" y="299.40" width="4.82" height="11.95" fill="#ec7714"/><rect x="172.88" y="311.35" width="4.82" height="21.20" fill="#f4ddc3"/><rect x="172.88" y="332.55" width="4.82" height="9.64" fill="#fad0a2"/><rect x="172.88" y="342.19" width="4.82" height="12.14" fill="#c6ccd6"/><rect x="172.88" y="354.33" width="4.82" height="6.17" fill="#fdf0e2"/><rect x="177.70" y="299.40" width="4.82" height="33.15" fill="#f4ddc3"/><rect x="177.70" y="332.55" width="4.82" height="5.78" fill="#fad0a2"/><rect x="177.70" y="338.33" width="4.82" height="4.82" fill="#c6ccd6"/><rect x="177.70" y="343.15" width="4.82" height="17.35" fill="#fdf0e2"/><rect x="182.52" y="299.40" width="4.82" height="5.20" fill="#ec7714"/><rect x="182.52" y="304.60" width="4.82" height="10.60" fill="#c6ccd6"/><rect x="182.52" y="315.21" width="4.82" height="16.38" fill="#fad0a2"/><rect x="182.52" y="331.59" width="4.82" height="13.88" fill="#c6ccd6"/><rect x="182.52" y="345.47" width="4.82" height="15.03" fill="#fdf0e2"/><rect x="187.34" y="299.40" width="4.82" height="8.10" fill="#f4ddc3"/><rect x="187.34" y="307.50" width="4.82" height="28.33" fill="#fad0a2"/><rect x="187.34" y="335.83" width="4.82" height="14.07" fill="#c6ccd6"/><rect x="187.34" y="349.90" width="4.82" height="10.60" fill="#fdf0e2"/><rect x="192.16" y="299.40" width="4.82" height="25.44" fill="#f4ddc3"/><rect x="192.16" y="324.84" width="4.82" height="10.22" fill="#fad0a2"/><rect x="192.16" y="335.06" width="4.82" height="11.95" fill="#c6ccd6"/><rect x="192.16" y="347.01" width="4.82" height="13.49" fill="#fdf0e2"/><rect x="196.98" y="299.40" width="4.82" height="15.81" fill="#ec7714"/><rect x="196.98" y="315.21" width="4.82" height="11.56" fill="#f4ddc3"/><rect x="196.98" y="326.77" width="4.82" height="12.91" fill="#fad0a2"/><rect x="196.98" y="339.68" width="4.82" height="6.94" fill="#c6ccd6"/><rect x="196.98" y="346.62" width="4.82" height="13.88" fill="#fdf0e2"/><rect x="201.80" y="299.40" width="4.82" height="27.37" fill="#c6ccd6"/><rect x="201.80" y="326.77" width="4.82" height="33.73" fill="#fdf0e2"/><rect x="206.62" y="299.40" width="4.82" height="34.12" fill="#f4ddc3"/><rect x="206.62" y="333.52" width="4.82" height="13.88" fill="#c6ccd6"/><rect x="206.62" y="347.39" width="4.82" height="13.11" fill="#fdf0e2"/><rect x="211.44" y="299.40" width="4.82" height="17.73" fill="#ec7714"/><rect x="211.44" y="317.13" width="4.82" height="13.49" fill="#f4ddc3"/><rect x="211.44" y="330.62" width="4.82" height="10.60" fill="#fad0a2"/><rect x="211.44" y="341.23" width="4.82" height="3.47" fill="#c6ccd6"/><rect x="211.44" y="344.69" width="4.82" height="15.81" fill="#fdf0e2"/><rect x="216.26" y="299.40" width="4.82" height="12.91" fill="#f4ddc3"/><rect x="216.26" y="312.31" width="4.82" height="27.95" fill="#fad0a2"/><rect x="216.26" y="340.26" width="4.82" height="7.13" fill="#c6ccd6"/><rect x="216.26" y="347.39" width="4.82" height="13.11" fill="#fdf0e2"/><rect x="221.08" y="299.40" width="4.82" height="27.95" fill="#c6ccd6"/><rect x="221.08" y="327.35" width="4.82" height="33.15" fill="#fdf0e2"/><rect x="230.20" y="299.40" width="4.82" height="19.68" fill="#ec7714"/><rect x="230.20" y="319.08" width="4.82" height="12.94" fill="#f4ddc3"/><rect x="230.20" y="332.02" width="4.82" height="16.40" fill="#fad0a2"/><rect x="230.20" y="348.42" width="4.82" height="12.08" fill="#fdf0e2"/><rect x="235.02" y="299.40" width="4.82" height="17.09" fill="#f4ddc3"/><rect x="235.02" y="316.49" width="4.82" height="18.12" fill="#fad0a2"/><rect x="235.02" y="334.61" width="4.82" height="11.74" fill="#c6ccd6"/><rect x="235.02" y="346.35" width="4.82" height="14.15" fill="#fdf0e2"/><rect x="239.84" y="299.40" width="4.82" height="26.58" fill="#f4ddc3"/><rect x="239.84" y="325.98" width="4.82" height="10.01" fill="#c6ccd6"/><rect x="239.84" y="335.99" width="4.82" height="24.51" fill="#fdf0e2"/><rect x="244.66" y="299.40" width="4.82" height="16.57" fill="#f4ddc3"/><rect x="244.66" y="315.97" width="4.82" height="35.04" fill="#fad0a2"/><rect x="244.66" y="351.01" width="4.82" height="8.63" fill="#c6ccd6"/><rect x="244.66" y="359.64" width="4.82" height="0.86" fill="#fdf0e2"/><rect x="249.48" y="299.40" width="4.82" height="40.04" fill="#ec7714"/><rect x="249.48" y="339.44" width="4.82" height="10.70" fill="#f4ddc3"/><rect x="249.48" y="350.14" width="4.82" height="4.31" fill="#fad0a2"/><rect x="249.48" y="354.46" width="4.82" height="1.21" fill="#c6ccd6"/><rect x="249.48" y="355.67" width="4.82" height="4.83" fill="#fdf0e2"/><rect x="254.30" y="299.40" width="4.82" height="12.77" fill="#ec7714"/><rect x="254.30" y="312.17" width="4.82" height="8.63" fill="#f4ddc3"/><rect x="254.30" y="320.80" width="4.82" height="9.49" fill="#fad0a2"/><rect x="254.30" y="330.30" width="4.82" height="12.94" fill="#c6ccd6"/><rect x="254.30" y="343.24" width="4.82" height="17.26" fill="#fdf0e2"/><rect x="259.12" y="299.40" width="4.82" height="11.91" fill="#ec7714"/><rect x="259.12" y="311.31" width="4.82" height="20.71" fill="#f4ddc3"/><rect x="259.12" y="332.02" width="4.82" height="10.36" fill="#fad0a2"/><rect x="259.12" y="342.38" width="4.82" height="6.39" fill="#c6ccd6"/><rect x="259.12" y="348.76" width="4.82" height="11.74" fill="#fdf0e2"/><rect x="263.94" y="299.40" width="4.82" height="26.93" fill="#ec7714"/><rect x="263.94" y="326.33" width="4.82" height="20.37" fill="#c6ccd6"/><rect x="263.94" y="346.69" width="4.82" height="13.81" fill="#fdf0e2"/><rect x="273.55" y="299.40" width="4.82" height="7.25" fill="#ec7714"/><rect x="273.55" y="306.65" width="4.82" height="23.65" fill="#f4ddc3"/><rect x="273.55" y="330.30" width="4.82" height="6.90" fill="#c6ccd6"/><rect x="273.55" y="337.20" width="4.82" height="23.30" fill="#fdf0e2"/><rect x="278.37" y="299.40" width="4.82" height="33.48" fill="#c6ccd6"/><rect x="278.37" y="332.88" width="4.82" height="27.62" fill="#fdf0e2"/><rect x="283.19" y="299.40" width="4.82" height="44.70" fill="#f4ddc3"/><rect x="283.19" y="344.10" width="4.82" height="8.63" fill="#fad0a2"/><rect x="283.19" y="352.73" width="4.82" height="4.31" fill="#c6ccd6"/><rect x="283.19" y="357.05" width="4.82" height="3.45" fill="#fdf0e2"/><rect x="288.01" y="299.40" width="4.82" height="15.36" fill="#ec7714"/><rect x="288.01" y="314.76" width="4.82" height="19.85" fill="#f4ddc3"/><rect x="288.01" y="334.61" width="4.82" height="6.90" fill="#c6ccd6"/><rect x="288.01" y="341.51" width="4.82" height="18.99" fill="#fdf0e2"/><rect x="292.83" y="299.40" width="4.82" height="14.50" fill="#ec7714"/><rect x="292.83" y="313.90" width="4.82" height="25.89" fill="#f4ddc3"/><rect x="292.83" y="339.79" width="4.82" height="12.08" fill="#fad0a2"/><rect x="292.83" y="351.87" width="4.82" height="2.59" fill="#c6ccd6"/><rect x="292.83" y="354.46" width="4.82" height="6.04" fill="#fdf0e2"/><rect x="297.65" y="299.40" width="4.82" height="19.68" fill="#f4ddc3"/><rect x="297.65" y="319.08" width="4.82" height="20.71" fill="#fad0a2"/><rect x="297.65" y="339.79" width="4.82" height="5.18" fill="#c6ccd6"/><rect x="297.65" y="344.97" width="4.82" height="15.53" fill="#fdf0e2"/><rect x="302.47" y="299.40" width="4.82" height="22.27" fill="#f4ddc3"/><rect x="302.47" y="321.67" width="4.82" height="13.29" fill="#fad0a2"/><rect x="302.47" y="334.96" width="4.82" height="10.01" fill="#c6ccd6"/><rect x="302.47" y="344.97" width="4.82" height="15.53" fill="#fdf0e2"/><rect x="307.29" y="299.40" width="4.82" height="15.88" fill="#ec7714"/><rect x="307.29" y="315.28" width="4.82" height="26.24" fill="#f4ddc3"/><rect x="307.29" y="341.51" width="4.82" height="11.22" fill="#c6ccd6"/><rect x="307.29" y="352.73" width="4.82" height="7.77" fill="#fdf0e2"/><rect x="312.11" y="299.40" width="4.82" height="12.53" fill="#ec7714"/><rect x="312.11" y="311.93" width="4.82" height="29.30" fill="#f4ddc3"/><rect x="312.11" y="341.23" width="4.82" height="5.78" fill="#c6ccd6"/><rect x="312.11" y="347.01" width="4.82" height="13.49" fill="#fdf0e2"/><rect x="316.93" y="299.40" width="4.82" height="22.17" fill="#ec7714"/><rect x="316.93" y="321.57" width="4.82" height="8.10" fill="#f4ddc3"/><rect x="316.93" y="329.66" width="4.82" height="17.35" fill="#fad0a2"/><rect x="316.93" y="347.01" width="4.82" height="2.89" fill="#c6ccd6"/><rect x="316.93" y="349.90" width="4.82" height="10.60" fill="#fdf0e2"/><rect x="321.75" y="299.40" width="4.82" height="49.54" fill="#c6ccd6"/><rect x="321.75" y="348.94" width="4.82" height="11.56" fill="#fdf0e2"/><rect x="326.57" y="299.40" width="4.82" height="27.37" fill="#f4ddc3"/><rect x="326.57" y="326.77" width="4.82" height="16.38" fill="#fad0a2"/><rect x="326.57" y="343.15" width="4.82" height="4.82" fill="#c6ccd6"/><rect x="326.57" y="347.97" width="4.82" height="12.53" fill="#fdf0e2"/><rect x="331.39" y="299.40" width="4.82" height="17.73" fill="#ec7714"/><rect x="331.39" y="317.13" width="4.82" height="23.13" fill="#f4ddc3"/><rect x="331.39" y="340.26" width="4.82" height="8.67" fill="#fad0a2"/><rect x="331.39" y="348.94" width="4.82" height="3.85" fill="#c6ccd6"/><rect x="331.39" y="352.79" width="4.82" height="7.71" fill="#fdf0e2"/><rect x="336.21" y="299.40" width="4.82" height="9.06" fill="#ec7714"/><rect x="336.21" y="308.46" width="4.82" height="20.24" fill="#f4ddc3"/><rect x="336.21" y="328.70" width="4.82" height="4.82" fill="#fad0a2"/><rect x="336.21" y="333.52" width="4.82" height="19.27" fill="#c6ccd6"/><rect x="336.21" y="352.79" width="4.82" height="7.71" fill="#fdf0e2"/><rect x="341.03" y="299.40" width="4.82" height="13.88" fill="#ec7714"/><rect x="341.03" y="313.28" width="4.82" height="23.13" fill="#f4ddc3"/><rect x="341.03" y="336.41" width="4.82" height="5.78" fill="#fad0a2"/><rect x="341.03" y="342.19" width="4.82" height="7.71" fill="#c6ccd6"/><rect x="341.03" y="349.90" width="4.82" height="10.60" fill="#fdf0e2"/><rect x="345.85" y="299.40" width="4.82" height="8.67" fill="#ec7714"/><rect x="345.85" y="308.07" width="4.82" height="19.66" fill="#f4ddc3"/><rect x="345.85" y="327.73" width="4.82" height="24.09" fill="#fad0a2"/><rect x="345.85" y="351.83" width="4.82" height="1.93" fill="#c6ccd6"/><rect x="345.85" y="353.75" width="4.82" height="6.75" fill="#fdf0e2"/><rect x="350.67" y="299.40" width="4.82" height="11.95" fill="#ec7714"/><rect x="350.67" y="311.35" width="4.82" height="22.17" fill="#f4ddc3"/><rect x="350.67" y="333.52" width="4.82" height="11.95" fill="#fad0a2"/><rect x="350.67" y="345.47" width="4.82" height="6.36" fill="#c6ccd6"/><rect x="350.67" y="351.83" width="4.82" height="8.67" fill="#fdf0e2"/><rect x="360.10" y="299.40" width="4.82" height="38.93" fill="#c6ccd6"/><rect x="360.10" y="338.33" width="4.82" height="22.17" fill="#fdf0e2"/><rect x="364.92" y="299.40" width="4.82" height="61.10" fill="#c6ccd6"/><rect x="369.74" y="299.40" width="4.82" height="9.06" fill="#ec7714"/><rect x="369.74" y="308.46" width="4.82" height="17.35" fill="#f4ddc3"/><rect x="369.74" y="325.81" width="4.82" height="6.75" fill="#fad0a2"/><rect x="369.74" y="332.55" width="4.82" height="11.56" fill="#c6ccd6"/><rect x="369.74" y="344.12" width="4.82" height="16.38" fill="#fdf0e2"/><rect x="374.56" y="299.40" width="4.82" height="13.88" fill="#ec7714"/><rect x="374.56" y="313.28" width="4.82" height="22.17" fill="#f4ddc3"/><rect x="374.56" y="335.44" width="4.82" height="4.82" fill="#fad0a2"/><rect x="374.56" y="340.26" width="4.82" height="2.89" fill="#c6ccd6"/><rect x="374.56" y="343.15" width="4.82" height="17.35" fill="#fdf0e2"/><rect x="379.38" y="299.40" width="4.82" height="10.02" fill="#ec7714"/><rect x="379.38" y="309.42" width="4.82" height="19.27" fill="#f4ddc3"/><rect x="379.38" y="328.70" width="4.82" height="16.77" fill="#fad0a2"/><rect x="379.38" y="345.47" width="4.82" height="4.43" fill="#c6ccd6"/><rect x="379.38" y="349.90" width="4.82" height="10.60" fill="#fdf0e2"/><rect x="388.80" y="299.40" width="4.82" height="9.06" fill="#ec7714"/><rect x="388.80" y="308.46" width="4.82" height="11.18" fill="#f4ddc3"/><rect x="388.80" y="319.64" width="4.82" height="5.78" fill="#fad0a2"/><rect x="388.80" y="325.42" width="4.82" height="9.06" fill="#c6ccd6"/><rect x="388.80" y="334.48" width="4.82" height="26.02" fill="#fdf0e2"/><rect x="393.62" y="299.40" width="4.82" height="18.70" fill="#ec7714"/><rect x="393.62" y="318.10" width="4.82" height="15.42" fill="#f4ddc3"/><rect x="393.62" y="333.52" width="4.82" height="3.85" fill="#fad0a2"/><rect x="393.62" y="337.37" width="4.82" height="9.64" fill="#c6ccd6"/><rect x="393.62" y="347.01" width="4.82" height="13.49" fill="#fdf0e2"/><rect x="403.20" y="299.40" width="4.82" height="14.84" fill="#ec7714"/><rect x="403.20" y="314.24" width="4.82" height="5.78" fill="#f4ddc3"/><rect x="403.20" y="320.02" width="4.82" height="10.02" fill="#fad0a2"/><rect x="403.20" y="330.05" width="4.82" height="4.43" fill="#c6ccd6"/><rect x="403.20" y="334.48" width="4.82" height="26.02" fill="#fdf0e2"/><line x1="43.25" x2="48.07" y1="312.75" y2="312.75" stroke="#5e4c3a" stroke-width="0.8"/><line x1="43.25" x2="48.07" y1="334.34" y2="334.34" stroke="#5e4c3a" stroke-width="0.8"/><line x1="43.25" x2="48.07" y1="345.32" y2="345.32" stroke="#5e4c3a" stroke-width="0.8"/><line x1="43.25" x2="48.07" y1="348.43" y2="348.43" stroke="#5e4c3a" stroke-width="0.8"/><rect x="43.25" y="299.40" width="4.82" height="61.10" fill="none" stroke="#5e4c3a" stroke-width="0.8"/><line x1="48.07" x2="52.89" y1="345.32" y2="345.32" stroke="#5e4c3a" stroke-width="0.8"/><rect x="48.07" y="299.40" width="4.82" height="61.10" fill="none" stroke="#5e4c3a" stroke-width="0.8"/><line x1="52.89" x2="57.71" y1="314.22" y2="314.22" stroke="#5e4c3a" stroke-width="0.8"/><line x1="52.89" x2="57.71" y1="341.66" y2="341.66" stroke="#5e4c3a" stroke-width="0.8"/><rect x="52.89" y="299.40" width="4.82" height="61.10" fill="none" stroke="#5e4c3a" stroke-width="0.8"/><line x1="57.71" x2="62.53" y1="352.63" y2="352.63" stroke="#5e4c3a" stroke-width="0.8"/><rect x="57.71" y="299.40" width="4.82" height="61.10" fill="none" stroke="#5e4c3a" stroke-width="0.8"/><line x1="62.53" x2="67.35" y1="346.23" y2="346.23" stroke="#5e4c3a" stroke-width="0.8"/><rect x="62.53" y="299.40" width="4.82" height="61.10" fill="none" stroke="#5e4c3a" stroke-width="0.8"/><line x1="67.35" x2="72.17" y1="304.52" y2="304.52" stroke="#5e4c3a" stroke-width="0.8"/><line x1="67.35" x2="72.17" y1="331.60" y2="331.60" stroke="#5e4c3a" stroke-width="0.8"/><line x1="67.35" x2="72.17" y1="342.94" y2="342.94" stroke="#5e4c3a" stroke-width="0.8"/><line x1="67.35" x2="72.17" y1="348.43" y2="348.43" stroke="#5e4c3a" stroke-width="0.8"/><rect x="67.35" y="299.40" width="4.82" height="61.10" fill="none" stroke="#5e4c3a" stroke-width="0.8"/><line x1="72.17" x2="76.99" y1="333.43" y2="333.43" stroke="#5e4c3a" stroke-width="0.8"/><rect x="72.17" y="299.40" width="4.82" height="61.10" fill="none" stroke="#5e4c3a" stroke-width="0.8"/><line x1="76.99" x2="81.81" y1="306.35" y2="306.35" stroke="#5e4c3a" stroke-width="0.8"/><line x1="76.99" x2="81.81" y1="336.17" y2="336.17" stroke="#5e4c3a" stroke-width="0.8"/><line x1="76.99" x2="81.81" y1="340.74" y2="340.74" stroke="#5e4c3a" stroke-width="0.8"/><line x1="76.99" x2="81.81" y1="348.06" y2="348.06" stroke="#5e4c3a" stroke-width="0.8"/><rect x="76.99" y="299.40" width="4.82" height="61.10" fill="none" stroke="#5e4c3a" stroke-width="0.8"/><line x1="81.81" x2="86.63" y1="326.47" y2="326.47" stroke="#5e4c3a" stroke-width="0.8"/><line x1="81.81" x2="86.63" y1="334.89" y2="334.89" stroke="#5e4c3a" stroke-width="0.8"/><line x1="81.81" x2="86.63" y1="338.55" y2="338.55" stroke="#5e4c3a" stroke-width="0.8"/><rect x="81.81" y="299.40" width="4.82" height="61.10" fill="none" stroke="#5e4c3a" stroke-width="0.8"/><line x1="86.63" x2="91.45" y1="304.16" y2="304.16" stroke="#5e4c3a" stroke-width="0.8"/><line x1="86.63" x2="91.45" y1="322.45" y2="322.45" stroke="#5e4c3a" stroke-width="0.8"/><line x1="86.63" x2="91.45" y1="338.00" y2="338.00" stroke="#5e4c3a" stroke-width="0.8"/><line x1="86.63" x2="91.45" y1="341.66" y2="341.66" stroke="#5e4c3a" stroke-width="0.8"/><rect x="86.63" y="299.40" width="4.82" height="61.10" fill="none" stroke="#5e4c3a" stroke-width="0.8"/><line x1="91.45" x2="96.27" y1="339.83" y2="339.83" stroke="#5e4c3a" stroke-width="0.8"/><rect x="91.45" y="299.40" width="4.82" height="61.10" fill="none" stroke="#5e4c3a" stroke-width="0.8"/><line x1="96.27" x2="101.09" y1="310.56" y2="310.56" stroke="#5e4c3a" stroke-width="0.8"/><line x1="96.27" x2="101.09" y1="334.34" y2="334.34" stroke="#5e4c3a" stroke-width="0.8"/><line x1="96.27" x2="101.09" y1="349.89" y2="349.89" stroke="#5e4c3a" stroke-width="0.8"/><line x1="96.27" x2="101.09" y1="352.09" y2="352.09" stroke="#5e4c3a" stroke-width="0.8"/><rect x="96.27" y="299.40" width="4.82" height="61.10" fill="none" stroke="#5e4c3a" stroke-width="0.8"/><line x1="101.09" x2="105.91" y1="317.88" y2="317.88" stroke="#5e4c3a" stroke-width="0.8"/><line x1="101.09" x2="105.91" y1="336.17" y2="336.17" stroke="#5e4c3a" stroke-width="0.8"/><line x1="101.09" x2="105.91" y1="342.21" y2="342.21" stroke="#5e4c3a" stroke-width="0.8"/><rect x="101.09" y="299.40" width="4.82" height="61.10" fill="none" stroke="#5e4c3a" stroke-width="0.8"/><line x1="105.91" x2="110.73" y1="331.60" y2="331.60" stroke="#5e4c3a" stroke-width="0.8"/><line x1="105.91" x2="110.73" y1="346.23" y2="346.23" stroke="#5e4c3a" stroke-width="0.8"/><line x1="105.91" x2="110.73" y1="354.46" y2="354.46" stroke="#5e4c3a" stroke-width="0.8"/><rect x="105.91" y="299.40" width="4.82" height="61.10" fill="none" stroke="#5e4c3a" stroke-width="0.8"/><line x1="110.73" x2="115.55" y1="311.47" y2="311.47" stroke="#5e4c3a" stroke-width="0.8"/><line x1="110.73" x2="115.55" y1="338.91" y2="338.91" stroke="#5e4c3a" stroke-width="0.8"/><line x1="110.73" x2="115.55" y1="357.21" y2="357.21" stroke="#5e4c3a" stroke-width="0.8"/><rect x="110.73" y="299.40" width="4.82" height="61.10" fill="none" stroke="#5e4c3a" stroke-width="0.8"/><line x1="115.55" x2="120.37" y1="328.85" y2="328.85" stroke="#5e4c3a" stroke-width="0.8"/><rect x="115.55" y="299.40" width="4.82" height="61.10" fill="none" stroke="#5e4c3a" stroke-width="0.8"/><line x1="120.37" x2="125.19" y1="320.62" y2="320.62" stroke="#5e4c3a" stroke-width="0.8"/><line x1="120.37" x2="125.19" y1="342.57" y2="342.57" stroke="#5e4c3a" stroke-width="0.8"/><line x1="120.37" x2="125.19" y1="355.38" y2="355.38" stroke="#5e4c3a" stroke-width="0.8"/><rect x="120.37" y="299.40" width="4.82" height="61.10" fill="none" stroke="#5e4c3a" stroke-width="0.8"/><line x1="125.19" x2="130.01" y1="325.19" y2="325.19" stroke="#5e4c3a" stroke-width="0.8"/><rect x="125.19" y="299.40" width="4.82" height="61.10" fill="none" stroke="#5e4c3a" stroke-width="0.8"/><line x1="134.60" x2="139.42" y1="334.48" y2="334.48" stroke="#5e4c3a" stroke-width="0.8"/><line x1="134.60" x2="139.42" y1="343.15" y2="343.15" stroke="#5e4c3a" stroke-width="0.8"/><line x1="134.60" x2="139.42" y1="352.40" y2="352.40" stroke="#5e4c3a" stroke-width="0.8"/><rect x="134.60" y="299.40" width="4.82" height="61.10" fill="none" stroke="#5e4c3a" stroke-width="0.8"/><line x1="139.42" x2="144.24" y1="309.42" y2="309.42" stroke="#5e4c3a" stroke-width="0.8"/><line x1="139.42" x2="144.24" y1="331.59" y2="331.59" stroke="#5e4c3a" stroke-width="0.8"/><line x1="139.42" x2="144.24" y1="339.68" y2="339.68" stroke="#5e4c3a" stroke-width="0.8"/><line x1="139.42" x2="144.24" y1="345.47" y2="345.47" stroke="#5e4c3a" stroke-width="0.8"/><rect x="139.42" y="299.40" width="4.82" height="61.10" fill="none" stroke="#5e4c3a" stroke-width="0.8"/><line x1="144.24" x2="149.06" y1="325.42" y2="325.42" stroke="#5e4c3a" stroke-width="0.8"/><rect x="144.24" y="299.40" width="4.82" height="61.10" fill="none" stroke="#5e4c3a" stroke-width="0.8"/><line x1="153.60" x2="158.42" y1="335.44" y2="335.44" stroke="#5e4c3a" stroke-width="0.8"/><rect x="153.60" y="299.40" width="4.82" height="61.10" fill="none" stroke="#5e4c3a" stroke-width="0.8"/><line x1="158.42" x2="163.24" y1="309.42" y2="309.42" stroke="#5e4c3a" stroke-width="0.8"/><line x1="158.42" x2="163.24" y1="331.59" y2="331.59" stroke="#5e4c3a" stroke-width="0.8"/><line x1="158.42" x2="163.24" y1="347.39" y2="347.39" stroke="#5e4c3a" stroke-width="0.8"/><rect x="158.42" y="299.40" width="4.82" height="61.10" fill="none" stroke="#5e4c3a" stroke-width="0.8"/><line x1="163.24" x2="168.06" y1="315.21" y2="315.21" stroke="#5e4c3a" stroke-width="0.8"/><line x1="163.24" x2="168.06" y1="340.84" y2="340.84" stroke="#5e4c3a" stroke-width="0.8"/><rect x="163.24" y="299.40" width="4.82" height="61.10" fill="none" stroke="#5e4c3a" stroke-width="0.8"/><line x1="168.06" x2="172.88" y1="330.62" y2="330.62" stroke="#5e4c3a" stroke-width="0.8"/><rect x="168.06" y="299.40" width="4.82" height="61.10" fill="none" stroke="#5e4c3a" stroke-width="0.8"/><line x1="172.88" x2="177.70" y1="311.35" y2="311.35" stroke="#5e4c3a" stroke-width="0.8"/><line x1="172.88" x2="177.70" y1="332.55" y2="332.55" stroke="#5e4c3a" stroke-width="0.8"/><line x1="172.88" x2="177.70" y1="342.19" y2="342.19" stroke="#5e4c3a" stroke-width="0.8"/><line x1="172.88" x2="177.70" y1="354.33" y2="354.33" stroke="#5e4c3a" stroke-width="0.8"/><rect x="172.88" y="299.40" width="4.82" height="61.10" fill="none" stroke="#5e4c3a" stroke-width="0.8"/><line x1="177.70" x2="182.52" y1="332.55" y2="332.55" stroke="#5e4c3a" stroke-width="0.8"/><line x1="177.70" x2="182.52" y1="338.33" y2="338.33" stroke="#5e4c3a" stroke-width="0.8"/><line x1="177.70" x2="182.52" y1="343.15" y2="343.15" stroke="#5e4c3a" stroke-width="0.8"/><rect x="177.70" y="299.40" width="4.82" height="61.10" fill="none" stroke="#5e4c3a" stroke-width="0.8"/><line x1="182.52" x2="187.34" y1="304.60" y2="304.60" stroke="#5e4c3a" stroke-width="0.8"/><line x1="182.52" x2="187.34" y1="315.21" y2="315.21" stroke="#5e4c3a" stroke-width="0.8"/><line x1="182.52" x2="187.34" y1="331.59" y2="331.59" stroke="#5e4c3a" stroke-width="0.8"/><line x1="182.52" x2="187.34" y1="345.47" y2="345.47" stroke="#5e4c3a" stroke-width="0.8"/><rect x="182.52" y="299.40" width="4.82" height="61.10" fill="none" stroke="#5e4c3a" stroke-width="0.8"/><line x1="187.34" x2="192.16" y1="307.50" y2="307.50" stroke="#5e4c3a" stroke-width="0.8"/><line x1="187.34" x2="192.16" y1="335.83" y2="335.83" stroke="#5e4c3a" stroke-width="0.8"/><line x1="187.34" x2="192.16" y1="349.90" y2="349.90" stroke="#5e4c3a" stroke-width="0.8"/><rect x="187.34" y="299.40" width="4.82" height="61.10" fill="none" stroke="#5e4c3a" stroke-width="0.8"/><line x1="192.16" x2="196.98" y1="324.84" y2="324.84" stroke="#5e4c3a" stroke-width="0.8"/><line x1="192.16" x2="196.98" y1="335.06" y2="335.06" stroke="#5e4c3a" stroke-width="0.8"/><line x1="192.16" x2="196.98" y1="347.01" y2="347.01" stroke="#5e4c3a" stroke-width="0.8"/><rect x="192.16" y="299.40" width="4.82" height="61.10" fill="none" stroke="#5e4c3a" stroke-width="0.8"/><line x1="196.98" x2="201.80" y1="315.21" y2="315.21" stroke="#5e4c3a" stroke-width="0.8"/><line x1="196.98" x2="201.80" y1="326.77" y2="326.77" stroke="#5e4c3a" stroke-width="0.8"/><line x1="196.98" x2="201.80" y1="339.68" y2="339.68" stroke="#5e4c3a" stroke-width="0.8"/><line x1="196.98" x2="201.80" y1="346.62" y2="346.62" stroke="#5e4c3a" stroke-width="0.8"/><rect x="196.98" y="299.40" width="4.82" height="61.10" fill="none" stroke="#5e4c3a" stroke-width="0.8"/><line x1="201.80" x2="206.62" y1="326.77" y2="326.77" stroke="#5e4c3a" stroke-width="0.8"/><rect x="201.80" y="299.40" width="4.82" height="61.10" fill="none" stroke="#5e4c3a" stroke-width="0.8"/><line x1="206.62" x2="211.44" y1="333.52" y2="333.52" stroke="#5e4c3a" stroke-width="0.8"/><line x1="206.62" x2="211.44" y1="347.39" y2="347.39" stroke="#5e4c3a" stroke-width="0.8"/><rect x="206.62" y="299.40" width="4.82" height="61.10" fill="none" stroke="#5e4c3a" stroke-width="0.8"/><line x1="211.44" x2="216.26" y1="317.13" y2="317.13" stroke="#5e4c3a" stroke-width="0.8"/><line x1="211.44" x2="216.26" y1="330.62" y2="330.62" stroke="#5e4c3a" stroke-width="0.8"/><line x1="211.44" x2="216.26" y1="341.23" y2="341.23" stroke="#5e4c3a" stroke-width="0.8"/><line x1="211.44" x2="216.26" y1="344.69" y2="344.69" stroke="#5e4c3a" stroke-width="0.8"/><rect x="211.44" y="299.40" width="4.82" height="61.10" fill="none" stroke="#5e4c3a" stroke-width="0.8"/><line x1="216.26" x2="221.08" y1="312.31" y2="312.31" stroke="#5e4c3a" stroke-width="0.8"/><line x1="216.26" x2="221.08" y1="340.26" y2="340.26" stroke="#5e4c3a" stroke-width="0.8"/><line x1="216.26" x2="221.08" y1="347.39" y2="347.39" stroke="#5e4c3a" stroke-width="0.8"/><rect x="216.26" y="299.40" width="4.82" height="61.10" fill="none" stroke="#5e4c3a" stroke-width="0.8"/><line x1="221.08" x2="225.90" y1="327.35" y2="327.35" stroke="#5e4c3a" stroke-width="0.8"/><rect x="221.08" y="299.40" width="4.82" height="61.10" fill="none" stroke="#5e4c3a" stroke-width="0.8"/><line x1="230.20" x2="235.02" y1="319.08" y2="319.08" stroke="#5e4c3a" stroke-width="0.8"/><line x1="230.20" x2="235.02" y1="332.02" y2="332.02" stroke="#5e4c3a" stroke-width="0.8"/><line x1="230.20" x2="235.02" y1="348.42" y2="348.42" stroke="#5e4c3a" stroke-width="0.8"/><rect x="230.20" y="299.40" width="4.82" height="61.10" fill="none" stroke="#5e4c3a" stroke-width="0.8"/><line x1="235.02" x2="239.84" y1="316.49" y2="316.49" stroke="#5e4c3a" stroke-width="0.8"/><line x1="235.02" x2="239.84" y1="334.61" y2="334.61" stroke="#5e4c3a" stroke-width="0.8"/><line x1="235.02" x2="239.84" y1="346.35" y2="346.35" stroke="#5e4c3a" stroke-width="0.8"/><rect x="235.02" y="299.40" width="4.82" height="61.10" fill="none" stroke="#5e4c3a" stroke-width="0.8"/><line x1="239.84" x2="244.66" y1="325.98" y2="325.98" stroke="#5e4c3a" stroke-width="0.8"/><line x1="239.84" x2="244.66" y1="335.99" y2="335.99" stroke="#5e4c3a" stroke-width="0.8"/><rect x="239.84" y="299.40" width="4.82" height="61.10" fill="none" stroke="#5e4c3a" stroke-width="0.8"/><line x1="244.66" x2="249.48" y1="315.97" y2="315.97" stroke="#5e4c3a" stroke-width="0.8"/><line x1="244.66" x2="249.48" y1="351.01" y2="351.01" stroke="#5e4c3a" stroke-width="0.8"/><line x1="244.66" x2="249.48" y1="359.64" y2="359.64" stroke="#5e4c3a" stroke-width="0.8"/><rect x="244.66" y="299.40" width="4.82" height="61.10" fill="none" stroke="#5e4c3a" stroke-width="0.8"/><line x1="249.48" x2="254.30" y1="339.44" y2="339.44" stroke="#5e4c3a" stroke-width="0.8"/><line x1="249.48" x2="254.30" y1="350.14" y2="350.14" stroke="#5e4c3a" stroke-width="0.8"/><line x1="249.48" x2="254.30" y1="354.46" y2="354.46" stroke="#5e4c3a" stroke-width="0.8"/><line x1="249.48" x2="254.30" y1="355.67" y2="355.67" stroke="#5e4c3a" stroke-width="0.8"/><rect x="249.48" y="299.40" width="4.82" height="61.10" fill="none" stroke="#5e4c3a" stroke-width="0.8"/><line x1="254.30" x2="259.12" y1="312.17" y2="312.17" stroke="#5e4c3a" stroke-width="0.8"/><line x1="254.30" x2="259.12" y1="320.80" y2="320.80" stroke="#5e4c3a" stroke-width="0.8"/><line x1="254.30" x2="259.12" y1="330.30" y2="330.30" stroke="#5e4c3a" stroke-width="0.8"/><line x1="254.30" x2="259.12" y1="343.24" y2="343.24" stroke="#5e4c3a" stroke-width="0.8"/><rect x="254.30" y="299.40" width="4.82" height="61.10" fill="none" stroke="#5e4c3a" stroke-width="0.8"/><line x1="259.12" x2="263.94" y1="311.31" y2="311.31" stroke="#5e4c3a" stroke-width="0.8"/><line x1="259.12" x2="263.94" y1="332.02" y2="332.02" stroke="#5e4c3a" stroke-width="0.8"/><line x1="259.12" x2="263.94" y1="342.38" y2="342.38" stroke="#5e4c3a" stroke-width="0.8"/><line x1="259.12" x2="263.94" y1="348.76" y2="348.76" stroke="#5e4c3a" stroke-width="0.8"/><rect x="259.12" y="299.40" width="4.82" height="61.10" fill="none" stroke="#5e4c3a" stroke-width="0.8"/><line x1="263.94" x2="268.76" y1="326.33" y2="326.33" stroke="#5e4c3a" stroke-width="0.8"/><line x1="263.94" x2="268.76" y1="346.69" y2="346.69" stroke="#5e4c3a" stroke-width="0.8"/><rect x="263.94" y="299.40" width="4.82" height="61.10" fill="none" stroke="#5e4c3a" stroke-width="0.8"/><line x1="273.55" x2="278.37" y1="306.65" y2="306.65" stroke="#5e4c3a" stroke-width="0.8"/><line x1="273.55" x2="278.37" y1="330.30" y2="330.30" stroke="#5e4c3a" stroke-width="0.8"/><line x1="273.55" x2="278.37" y1="337.20" y2="337.20" stroke="#5e4c3a" stroke-width="0.8"/><rect x="273.55" y="299.40" width="4.82" height="61.10" fill="none" stroke="#5e4c3a" stroke-width="0.8"/><line x1="278.37" x2="283.19" y1="332.88" y2="332.88" stroke="#5e4c3a" stroke-width="0.8"/><rect x="278.37" y="299.40" width="4.82" height="61.10" fill="none" stroke="#5e4c3a" stroke-width="0.8"/><line x1="283.19" x2="288.01" y1="344.10" y2="344.10" stroke="#5e4c3a" stroke-width="0.8"/><line x1="283.19" x2="288.01" y1="352.73" y2="352.73" stroke="#5e4c3a" stroke-width="0.8"/><line x1="283.19" x2="288.01" y1="357.05" y2="357.05" stroke="#5e4c3a" stroke-width="0.8"/><rect x="283.19" y="299.40" width="4.82" height="61.10" fill="none" stroke="#5e4c3a" stroke-width="0.8"/><line x1="288.01" x2="292.83" y1="314.76" y2="314.76" stroke="#5e4c3a" stroke-width="0.8"/><line x1="288.01" x2="292.83" y1="334.61" y2="334.61" stroke="#5e4c3a" stroke-width="0.8"/><line x1="288.01" x2="292.83" y1="341.51" y2="341.51" stroke="#5e4c3a" stroke-width="0.8"/><rect x="288.01" y="299.40" width="4.82" height="61.10" fill="none" stroke="#5e4c3a" stroke-width="0.8"/><line x1="292.83" x2="297.65" y1="313.90" y2="313.90" stroke="#5e4c3a" stroke-width="0.8"/><line x1="292.83" x2="297.65" y1="339.79" y2="339.79" stroke="#5e4c3a" stroke-width="0.8"/><line x1="292.83" x2="297.65" y1="351.87" y2="351.87" stroke="#5e4c3a" stroke-width="0.8"/><line x1="292.83" x2="297.65" y1="354.46" y2="354.46" stroke="#5e4c3a" stroke-width="0.8"/><rect x="292.83" y="299.40" width="4.82" height="61.10" fill="none" stroke="#5e4c3a" stroke-width="0.8"/><line x1="297.65" x2="302.47" y1="319.08" y2="319.08" stroke="#5e4c3a" stroke-width="0.8"/><line x1="297.65" x2="302.47" y1="339.79" y2="339.79" stroke="#5e4c3a" stroke-width="0.8"/><line x1="297.65" x2="302.47" y1="344.97" y2="344.97" stroke="#5e4c3a" stroke-width="0.8"/><rect x="297.65" y="299.40" width="4.82" height="61.10" fill="none" stroke="#5e4c3a" stroke-width="0.8"/><line x1="302.47" x2="307.29" y1="321.67" y2="321.67" stroke="#5e4c3a" stroke-width="0.8"/><line x1="302.47" x2="307.29" y1="334.96" y2="334.96" stroke="#5e4c3a" stroke-width="0.8"/><line x1="302.47" x2="307.29" y1="344.97" y2="344.97" stroke="#5e4c3a" stroke-width="0.8"/><rect x="302.47" y="299.40" width="4.82" height="61.10" fill="none" stroke="#5e4c3a" stroke-width="0.8"/><line x1="307.29" x2="312.11" y1="315.28" y2="315.28" stroke="#5e4c3a" stroke-width="0.8"/><line x1="307.29" x2="312.11" y1="341.51" y2="341.51" stroke="#5e4c3a" stroke-width="0.8"/><line x1="307.29" x2="312.11" y1="352.73" y2="352.73" stroke="#5e4c3a" stroke-width="0.8"/><rect x="307.29" y="299.40" width="4.82" height="61.10" fill="none" stroke="#5e4c3a" stroke-width="0.8"/><line x1="312.11" x2="316.93" y1="311.93" y2="311.93" stroke="#5e4c3a" stroke-width="0.8"/><line x1="312.11" x2="316.93" y1="341.23" y2="341.23" stroke="#5e4c3a" stroke-width="0.8"/><line x1="312.11" x2="316.93" y1="347.01" y2="347.01" stroke="#5e4c3a" stroke-width="0.8"/><rect x="312.11" y="299.40" width="4.82" height="61.10" fill="none" stroke="#5e4c3a" stroke-width="0.8"/><line x1="316.93" x2="321.75" y1="321.57" y2="321.57" stroke="#5e4c3a" stroke-width="0.8"/><line x1="316.93" x2="321.75" y1="329.66" y2="329.66" stroke="#5e4c3a" stroke-width="0.8"/><line x1="316.93" x2="321.75" y1="347.01" y2="347.01" stroke="#5e4c3a" stroke-width="0.8"/><line x1="316.93" x2="321.75" y1="349.90" y2="349.90" stroke="#5e4c3a" stroke-width="0.8"/><rect x="316.93" y="299.40" width="4.82" height="61.10" fill="none" stroke="#5e4c3a" stroke-width="0.8"/><line x1="321.75" x2="326.57" y1="348.94" y2="348.94" stroke="#5e4c3a" stroke-width="0.8"/><rect x="321.75" y="299.40" width="4.82" height="61.10" fill="none" stroke="#5e4c3a" stroke-width="0.8"/><line x1="326.57" x2="331.39" y1="326.77" y2="326.77" stroke="#5e4c3a" stroke-width="0.8"/><line x1="326.57" x2="331.39" y1="343.15" y2="343.15" stroke="#5e4c3a" stroke-width="0.8"/><line x1="326.57" x2="331.39" y1="347.97" y2="347.97" stroke="#5e4c3a" stroke-width="0.8"/><rect x="326.57" y="299.40" width="4.82" height="61.10" fill="none" stroke="#5e4c3a" stroke-width="0.8"/><line x1="331.39" x2="336.21" y1="317.13" y2="317.13" stroke="#5e4c3a" stroke-width="0.8"/><line x1="331.39" x2="336.21" y1="340.26" y2="340.26" stroke="#5e4c3a" stroke-width="0.8"/><line x1="331.39" x2="336.21" y1="348.94" y2="348.94" stroke="#5e4c3a" stroke-width="0.8"/><line x1="331.39" x2="336.21" y1="352.79" y2="352.79" stroke="#5e4c3a" stroke-width="0.8"/><rect x="331.39" y="299.40" width="4.82" height="61.10" fill="none" stroke="#5e4c3a" stroke-width="0.8"/><line x1="336.21" x2="341.03" y1="308.46" y2="308.46" stroke="#5e4c3a" stroke-width="0.8"/><line x1="336.21" x2="341.03" y1="328.70" y2="328.70" stroke="#5e4c3a" stroke-width="0.8"/><line x1="336.21" x2="341.03" y1="333.52" y2="333.52" stroke="#5e4c3a" stroke-width="0.8"/><line x1="336.21" x2="341.03" y1="352.79" y2="352.79" stroke="#5e4c3a" stroke-width="0.8"/><rect x="336.21" y="299.40" width="4.82" height="61.10" fill="none" stroke="#5e4c3a" stroke-width="0.8"/><line x1="341.03" x2="345.85" y1="313.28" y2="313.28" stroke="#5e4c3a" stroke-width="0.8"/><line x1="341.03" x2="345.85" y1="336.41" y2="336.41" stroke="#5e4c3a" stroke-width="0.8"/><line x1="341.03" x2="345.85" y1="342.19" y2="342.19" stroke="#5e4c3a" stroke-width="0.8"/><line x1="341.03" x2="345.85" y1="349.90" y2="349.90" stroke="#5e4c3a" stroke-width="0.8"/><rect x="341.03" y="299.40" width="4.82" height="61.10" fill="none" stroke="#5e4c3a" stroke-width="0.8"/><line x1="345.85" x2="350.67" y1="308.07" y2="308.07" stroke="#5e4c3a" stroke-width="0.8"/><line x1="345.85" x2="350.67" y1="327.73" y2="327.73" stroke="#5e4c3a" stroke-width="0.8"/><line x1="345.85" x2="350.67" y1="351.83" y2="351.83" stroke="#5e4c3a" stroke-width="0.8"/><line x1="345.85" x2="350.67" y1="353.75" y2="353.75" stroke="#5e4c3a" stroke-width="0.8"/><rect x="345.85" y="299.40" width="4.82" height="61.10" fill="none" stroke="#5e4c3a" stroke-width="0.8"/><line x1="350.67" x2="355.49" y1="311.35" y2="311.35" stroke="#5e4c3a" stroke-width="0.8"/><line x1="350.67" x2="355.49" y1="333.52" y2="333.52" stroke="#5e4c3a" stroke-width="0.8"/><line x1="350.67" x2="355.49" y1="345.47" y2="345.47" stroke="#5e4c3a" stroke-width="0.8"/><line x1="350.67" x2="355.49" y1="351.83" y2="351.83" stroke="#5e4c3a" stroke-width="0.8"/><rect x="350.67" y="299.40" width="4.82" height="61.10" fill="none" stroke="#5e4c3a" stroke-width="0.8"/><line x1="360.10" x2="364.92" y1="338.33" y2="338.33" stroke="#5e4c3a" stroke-width="0.8"/><rect x="360.10" y="299.40" width="4.82" height="61.10" fill="none" stroke="#5e4c3a" stroke-width="0.8"/><rect x="364.92" y="299.40" width="4.82" height="61.10" fill="none" stroke="#5e4c3a" stroke-width="0.8"/><line x1="369.74" x2="374.56" y1="308.46" y2="308.46" stroke="#5e4c3a" stroke-width="0.8"/><line x1="369.74" x2="374.56" y1="325.81" y2="325.81" stroke="#5e4c3a" stroke-width="0.8"/><line x1="369.74" x2="374.56" y1="332.55" y2="332.55" stroke="#5e4c3a" stroke-width="0.8"/><line x1="369.74" x2="374.56" y1="344.12" y2="344.12" stroke="#5e4c3a" stroke-width="0.8"/><rect x="369.74" y="299.40" width="4.82" height="61.10" fill="none" stroke="#5e4c3a" stroke-width="0.8"/><line x1="374.56" x2="379.38" y1="313.28" y2="313.28" stroke="#5e4c3a" stroke-width="0.8"/><line x1="374.56" x2="379.38" y1="335.44" y2="335.44" stroke="#5e4c3a" stroke-width="0.8"/><line x1="374.56" x2="379.38" y1="340.26" y2="340.26" stroke="#5e4c3a" stroke-width="0.8"/><line x1="374.56" x2="379.38" y1="343.15" y2="343.15" stroke="#5e4c3a" stroke-width="0.8"/><rect x="374.56" y="299.40" width="4.82" height="61.10" fill="none" stroke="#5e4c3a" stroke-width="0.8"/><line x1="379.38" x2="384.20" y1="309.42" y2="309.42" stroke="#5e4c3a" stroke-width="0.8"/><line x1="379.38" x2="384.20" y1="328.70" y2="328.70" stroke="#5e4c3a" stroke-width="0.8"/><line x1="379.38" x2="384.20" y1="345.47" y2="345.47" stroke="#5e4c3a" stroke-width="0.8"/><line x1="379.38" x2="384.20" y1="349.90" y2="349.90" stroke="#5e4c3a" stroke-width="0.8"/><rect x="379.38" y="299.40" width="4.82" height="61.10" fill="none" stroke="#5e4c3a" stroke-width="0.8"/><line x1="388.80" x2="393.62" y1="308.46" y2="308.46" stroke="#5e4c3a" stroke-width="0.8"/><line x1="388.80" x2="393.62" y1="319.64" y2="319.64" stroke="#5e4c3a" stroke-width="0.8"/><line x1="388.80" x2="393.62" y1="325.42" y2="325.42" stroke="#5e4c3a" stroke-width="0.8"/><line x1="388.80" x2="393.62" y1="334.48" y2="334.48" stroke="#5e4c3a" stroke-width="0.8"/><rect x="388.80" y="299.40" width="4.82" height="61.10" fill="none" stroke="#5e4c3a" stroke-width="0.8"/><line x1="393.62" x2="398.44" y1="318.10" y2="318.10" stroke="#5e4c3a" stroke-width="0.8"/><line x1="393.62" x2="398.44" y1="333.52" y2="333.52" stroke="#5e4c3a" stroke-width="0.8"/><line x1="393.62" x2="398.44" y1="337.37" y2="337.37" stroke="#5e4c3a" stroke-width="0.8"/><line x1="393.62" x2="398.44" y1="347.01" y2="347.01" stroke="#5e4c3a" stroke-width="0.8"/><rect x="393.62" y="299.40" width="4.82" height="61.10" fill="none" stroke="#5e4c3a" stroke-width="0.8"/><line x1="403.20" x2="408.02" y1="314.24" y2="314.24" stroke="#5e4c3a" stroke-width="0.8"/><line x1="403.20" x2="408.02" y1="320.02" y2="320.02" stroke="#5e4c3a" stroke-width="0.8"/><line x1="403.20" x2="408.02" y1="330.05" y2="330.05" stroke="#5e4c3a" stroke-width="0.8"/><line x1="403.20" x2="408.02" y1="334.48" y2="334.48" stroke="#5e4c3a" stroke-width="0.8"/><rect x="403.20" y="299.40" width="4.82" height="61.10" fill="none" stroke="#5e4c3a" stroke-width="0.8"/>
<line x1="38.5" x2="38.5" y1="299.0" y2="360.9" stroke="#161616" stroke-width="1.15"/><line x1="35.0" x2="38.5" y1="299.40" y2="299.40" stroke="#161616" stroke-width="1"/><text class="lt" x="32.6" y="302.14" font-size="7.6" text-anchor="end" textLength="10.4" lengthAdjust="spacingAndGlyphs" fill="#444444">1.0</text><line x1="35.0" x2="38.5" y1="314.67" y2="314.67" stroke="#161616" stroke-width="1"/><text class="lt" x="32.6" y="317.41" font-size="7.6" text-anchor="end" textLength="15.6" lengthAdjust="spacingAndGlyphs" fill="#444444">0.75</text><line x1="35.0" x2="38.5" y1="329.95" y2="329.95" stroke="#161616" stroke-width="1"/><text class="lt" x="32.6" y="332.69" font-size="7.6" text-anchor="end" textLength="10.4" lengthAdjust="spacingAndGlyphs" fill="#444444">0.5</text><line x1="35.0" x2="38.5" y1="345.23" y2="345.23" stroke="#161616" stroke-width="1"/><text class="lt" x="32.6" y="347.96" font-size="7.6" text-anchor="end" textLength="15.6" lengthAdjust="spacingAndGlyphs" fill="#444444">0.25</text><line x1="35.0" x2="38.5" y1="360.50" y2="360.50" stroke="#161616" stroke-width="1"/><text class="lt" x="32.6" y="363.24" font-size="7.6" text-anchor="end" textLength="10.4" lengthAdjust="spacingAndGlyphs" fill="#444444">0.0</text>
<text class="yl" transform="translate(8.1,330.1) rotate(-90)" font-size="8.0" text-anchor="middle" textLength="53.7" lengthAdjust="spacingAndGlyphs" fill="#383838">Proportion of ID</text>
<rect x="414.6" y="306.80" width="5.8" height="5.8" fill="#efdcc8"/>
<text x="423" y="311.70" font-size="7.7" fill="#444444">ID1 Age–Related</text>
<rect x="414.6" y="317.00" width="5.8" height="5.8" fill="#bcc4cf"/>
<text x="423" y="321.90" font-size="7.7" fill="#444444">ID2 Age–Related</text>
<rect x="414.6" y="327.20" width="5.8" height="5.8" fill="#f9c99a"/>
<text x="423" y="332.10" font-size="7.7" fill="#444444">ID3</text>
<rect x="414.6" y="337.40" width="5.8" height="5.8" fill="#e6e0d8"/>
<text x="423" y="342.30" font-size="7.7" fill="#444444">ID9</text>
<rect x="414.6" y="347.60" width="5.8" height="5.8" fill="#e86a10"/>
<text x="423" y="352.50" font-size="7.7" fill="#444444">ID8 Radiation</text>
<text class="sl" transform="translate(47.16,364.2) rotate(-90)" font-size="4.8" text-anchor="end" textLength="25.4" lengthAdjust="spacingAndGlyphs" fill="#5a5a5a">ID_H02720</text>
<text class="sl" transform="translate(51.98,364.2) rotate(-90)" font-size="4.8" text-anchor="end" textLength="25.4" lengthAdjust="spacingAndGlyphs" fill="#5a5a5a">ID_H02727</text>
<text class="sl" transform="translate(56.80,364.2) rotate(-90)" font-size="4.8" text-anchor="end" textLength="25.4" lengthAdjust="spacingAndGlyphs" fill="#5a5a5a">ID_H02734</text>
<text class="sl" transform="translate(61.62,364.2) rotate(-90)" font-size="4.8" text-anchor="end" textLength="25.4" lengthAdjust="spacingAndGlyphs" fill="#5a5a5a">ID_H02741</text>
<text class="sl" transform="translate(66.44,364.2) rotate(-90)" font-size="4.8" text-anchor="end" textLength="25.4" lengthAdjust="spacingAndGlyphs" fill="#5a5a5a">ID_H02748</text>
<text class="sl" transform="translate(71.26,364.2) rotate(-90)" font-size="4.8" text-anchor="end" textLength="25.4" lengthAdjust="spacingAndGlyphs" fill="#5a5a5a">ID_H02755</text>
<text class="sl" transform="translate(76.08,364.2) rotate(-90)" font-size="4.8" text-anchor="end" textLength="25.4" lengthAdjust="spacingAndGlyphs" fill="#5a5a5a">ID_H02762</text>
<text class="sl" transform="translate(80.90,364.2) rotate(-90)" font-size="4.8" text-anchor="end" textLength="25.4" lengthAdjust="spacingAndGlyphs" fill="#5a5a5a">ID_H02769</text>
<text class="sl" transform="translate(85.72,364.2) rotate(-90)" font-size="4.8" text-anchor="end" textLength="25.4" lengthAdjust="spacingAndGlyphs" fill="#5a5a5a">ID_H02776</text>
<text class="sl" transform="translate(90.54,364.2) rotate(-90)" font-size="4.8" text-anchor="end" textLength="25.4" lengthAdjust="spacingAndGlyphs" fill="#5a5a5a">ID_H02783</text>
<text class="sl" transform="translate(95.36,364.2) rotate(-90)" font-size="4.8" text-anchor="end" textLength="25.4" lengthAdjust="spacingAndGlyphs" fill="#5a5a5a">ID_H02790</text>
<text class="sl" transform="translate(100.18,364.2) rotate(-90)" font-size="4.8" text-anchor="end" textLength="25.4" lengthAdjust="spacingAndGlyphs" fill="#5a5a5a">ID_H02797</text>
<text class="sl" transform="translate(105.00,364.2) rotate(-90)" font-size="4.8" text-anchor="end" textLength="25.4" lengthAdjust="spacingAndGlyphs" fill="#5a5a5a">ID_H02804</text>
<text class="sl" transform="translate(109.82,364.2) rotate(-90)" font-size="4.8" text-anchor="end" textLength="25.4" lengthAdjust="spacingAndGlyphs" fill="#5a5a5a">ID_H02811</text>
<text class="sl" transform="translate(114.64,364.2) rotate(-90)" font-size="4.8" text-anchor="end" textLength="25.4" lengthAdjust="spacingAndGlyphs" fill="#5a5a5a">ID_H02818</text>
<text class="sl" transform="translate(119.46,364.2) rotate(-90)" font-size="4.8" text-anchor="end" textLength="25.4" lengthAdjust="spacingAndGlyphs" fill="#5a5a5a">ID_H02825</text>
<text class="sl" transform="translate(124.28,364.2) rotate(-90)" font-size="4.8" text-anchor="end" textLength="25.4" lengthAdjust="spacingAndGlyphs" fill="#5a5a5a">ID_H02832</text>
<text class="sl" transform="translate(129.10,364.2) rotate(-90)" font-size="4.8" text-anchor="end" textLength="25.4" lengthAdjust="spacingAndGlyphs" fill="#5a5a5a">ID_H02839</text>
<text class="sl" transform="translate(138.51,364.2) rotate(-90)" font-size="4.8" text-anchor="end" textLength="25.4" lengthAdjust="spacingAndGlyphs" fill="#5a5a5a">ID_H02846</text>
<text class="sl" transform="translate(143.33,364.2) rotate(-90)" font-size="4.8" text-anchor="end" textLength="25.4" lengthAdjust="spacingAndGlyphs" fill="#5a5a5a">ID_H02853</text>
<text class="sl" transform="translate(148.15,364.2) rotate(-90)" font-size="4.8" text-anchor="end" textLength="25.4" lengthAdjust="spacingAndGlyphs" fill="#5a5a5a">ID_H02860</text>
<text class="sl" transform="translate(157.51,364.2) rotate(-90)" font-size="4.8" text-anchor="end" textLength="25.4" lengthAdjust="spacingAndGlyphs" fill="#5a5a5a">ID_H02867</text>
<text class="sl" transform="translate(162.33,364.2) rotate(-90)" font-size="4.8" text-anchor="end" textLength="25.4" lengthAdjust="spacingAndGlyphs" fill="#5a5a5a">ID_H02874</text>
<text class="sl" transform="translate(167.15,364.2) rotate(-90)" font-size="4.8" text-anchor="end" textLength="25.4" lengthAdjust="spacingAndGlyphs" fill="#5a5a5a">ID_H02881</text>
<text class="sl" transform="translate(171.97,364.2) rotate(-90)" font-size="4.8" text-anchor="end" textLength="25.4" lengthAdjust="spacingAndGlyphs" fill="#5a5a5a">ID_H02888</text>
<text class="sl" transform="translate(176.79,364.2) rotate(-90)" font-size="4.8" text-anchor="end" textLength="25.4" lengthAdjust="spacingAndGlyphs" fill="#5a5a5a">ID_H02895</text>
<text class="sl" transform="translate(181.61,364.2) rotate(-90)" font-size="4.8" text-anchor="end" textLength="25.4" lengthAdjust="spacingAndGlyphs" fill="#5a5a5a">ID_H02902</text>
<text class="sl" transform="translate(186.43,364.2) rotate(-90)" font-size="4.8" text-anchor="end" textLength="25.4" lengthAdjust="spacingAndGlyphs" fill="#5a5a5a">ID_H02909</text>
<text class="sl" transform="translate(191.25,364.2) rotate(-90)" font-size="4.8" text-anchor="end" textLength="25.4" lengthAdjust="spacingAndGlyphs" fill="#5a5a5a">ID_H02916</text>
<text class="sl" transform="translate(196.07,364.2) rotate(-90)" font-size="4.8" text-anchor="end" textLength="25.4" lengthAdjust="spacingAndGlyphs" fill="#5a5a5a">ID_H02923</text>
<text class="sl" transform="translate(200.89,364.2) rotate(-90)" font-size="4.8" text-anchor="end" textLength="25.4" lengthAdjust="spacingAndGlyphs" fill="#5a5a5a">ID_H02930</text>
<text class="sl" transform="translate(205.71,364.2) rotate(-90)" font-size="4.8" text-anchor="end" textLength="25.4" lengthAdjust="spacingAndGlyphs" fill="#5a5a5a">ID_H02937</text>
<text class="sl" transform="translate(210.53,364.2) rotate(-90)" font-size="4.8" text-anchor="end" textLength="25.4" lengthAdjust="spacingAndGlyphs" fill="#5a5a5a">ID_H02944</text>
<text class="sl" transform="translate(215.35,364.2) rotate(-90)" font-size="4.8" text-anchor="end" textLength="25.4" lengthAdjust="spacingAndGlyphs" fill="#5a5a5a">ID_H02951</text>
<text class="sl" transform="translate(220.17,364.2) rotate(-90)" font-size="4.8" text-anchor="end" textLength="25.4" lengthAdjust="spacingAndGlyphs" fill="#5a5a5a">ID_H02958</text>
<text class="sl" transform="translate(224.99,364.2) rotate(-90)" font-size="4.8" text-anchor="end" textLength="25.4" lengthAdjust="spacingAndGlyphs" fill="#5a5a5a">ID_H02965</text>
<text class="sl" transform="translate(234.11,364.2) rotate(-90)" font-size="4.8" text-anchor="end" textLength="25.4" lengthAdjust="spacingAndGlyphs" fill="#5a5a5a">ID_H02972</text>
<text class="sl" transform="translate(238.93,364.2) rotate(-90)" font-size="4.8" text-anchor="end" textLength="25.4" lengthAdjust="spacingAndGlyphs" fill="#5a5a5a">ID_H02979</text>
<text class="sl" transform="translate(243.75,364.2) rotate(-90)" font-size="4.8" text-anchor="end" textLength="25.4" lengthAdjust="spacingAndGlyphs" fill="#5a5a5a">ID_H02986</text>
<text class="sl" transform="translate(248.57,364.2) rotate(-90)" font-size="4.8" text-anchor="end" textLength="25.4" lengthAdjust="spacingAndGlyphs" fill="#5a5a5a">ID_H02993</text>
<text class="sl" transform="translate(253.39,364.2) rotate(-90)" font-size="4.8" text-anchor="end" textLength="25.4" lengthAdjust="spacingAndGlyphs" fill="#5a5a5a">ID_H03000</text>
<text class="sl" transform="translate(258.21,364.2) rotate(-90)" font-size="4.8" text-anchor="end" textLength="25.4" lengthAdjust="spacingAndGlyphs" fill="#5a5a5a">ID_H03007</text>
<text class="sl" transform="translate(263.03,364.2) rotate(-90)" font-size="4.8" text-anchor="end" textLength="25.4" lengthAdjust="spacingAndGlyphs" fill="#5a5a5a">ID_H03014</text>
<text class="sl" transform="translate(267.85,364.2) rotate(-90)" font-size="4.8" text-anchor="end" textLength="25.4" lengthAdjust="spacingAndGlyphs" fill="#5a5a5a">ID_H03021</text>
<text class="sl" transform="translate(277.46,364.2) rotate(-90)" font-size="4.8" text-anchor="end" textLength="19.8" lengthAdjust="spacingAndGlyphs" fill="#5a5a5a">ID_H03028</text>
<text class="sl" transform="translate(282.28,364.2) rotate(-90)" font-size="4.8" text-anchor="end" textLength="19.8" lengthAdjust="spacingAndGlyphs" fill="#5a5a5a">ID_H03035</text>
<text class="sl" transform="translate(287.10,364.2) rotate(-90)" font-size="4.8" text-anchor="end" textLength="19.8" lengthAdjust="spacingAndGlyphs" fill="#5a5a5a">ID_H03042</text>
<text class="sl" transform="translate(291.92,364.2) rotate(-90)" font-size="4.8" text-anchor="end" textLength="25.4" lengthAdjust="spacingAndGlyphs" fill="#5a5a5a">ID_H03049</text>
<text class="sl" transform="translate(296.74,364.2) rotate(-90)" font-size="4.8" text-anchor="end" textLength="25.4" lengthAdjust="spacingAndGlyphs" fill="#5a5a5a">ID_H03056</text>
<text class="sl" transform="translate(301.56,364.2) rotate(-90)" font-size="4.8" text-anchor="end" textLength="25.4" lengthAdjust="spacingAndGlyphs" fill="#5a5a5a">ID_H03063</text>
<text class="sl" transform="translate(306.38,364.2) rotate(-90)" font-size="4.8" text-anchor="end" textLength="25.4" lengthAdjust="spacingAndGlyphs" fill="#5a5a5a">ID_H03070</text>
<text class="sl" transform="translate(311.20,364.2) rotate(-90)" font-size="4.8" text-anchor="end" textLength="25.4" lengthAdjust="spacingAndGlyphs" fill="#5a5a5a">ID_H03077</text>
<text class="sl" transform="translate(316.02,364.2) rotate(-90)" font-size="4.8" text-anchor="end" textLength="25.4" lengthAdjust="spacingAndGlyphs" fill="#5a5a5a">ID_H03084</text>
<text class="sl" transform="translate(320.84,364.2) rotate(-90)" font-size="4.8" text-anchor="end" textLength="25.4" lengthAdjust="spacingAndGlyphs" fill="#5a5a5a">ID_H03091</text>
<text class="sl" transform="translate(325.66,364.2) rotate(-90)" font-size="4.8" text-anchor="end" textLength="25.4" lengthAdjust="spacingAndGlyphs" fill="#5a5a5a">ID_H03098</text>
<text class="sl" transform="translate(330.48,364.2) rotate(-90)" font-size="4.8" text-anchor="end" textLength="25.4" lengthAdjust="spacingAndGlyphs" fill="#5a5a5a">ID_H03105</text>
<text class="sl" transform="translate(335.30,364.2) rotate(-90)" font-size="4.8" text-anchor="end" textLength="25.4" lengthAdjust="spacingAndGlyphs" fill="#5a5a5a">ID_H03112</text>
<text class="sl" transform="translate(340.12,364.2) rotate(-90)" font-size="4.8" text-anchor="end" textLength="25.4" lengthAdjust="spacingAndGlyphs" fill="#5a5a5a">ID_H03119</text>
<text class="sl" transform="translate(344.94,364.2) rotate(-90)" font-size="4.8" text-anchor="end" textLength="25.4" lengthAdjust="spacingAndGlyphs" fill="#5a5a5a">ID_H03126</text>
<text class="sl" transform="translate(349.76,364.2) rotate(-90)" font-size="4.8" text-anchor="end" textLength="25.4" lengthAdjust="spacingAndGlyphs" fill="#5a5a5a">ID_H03133</text>
<text class="sl" transform="translate(354.58,364.2) rotate(-90)" font-size="4.8" text-anchor="end" textLength="25.4" lengthAdjust="spacingAndGlyphs" fill="#5a5a5a">ID_H03140</text>
<text class="sl" transform="translate(364.01,364.2) rotate(-90)" font-size="4.8" text-anchor="end" textLength="25.4" lengthAdjust="spacingAndGlyphs" fill="#5a5a5a">ID_H03147</text>
<text class="sl" transform="translate(368.83,364.2) rotate(-90)" font-size="4.8" text-anchor="end" textLength="25.4" lengthAdjust="spacingAndGlyphs" fill="#5a5a5a">ID_H03154</text>
<text class="sl" transform="translate(373.65,364.2) rotate(-90)" font-size="4.8" text-anchor="end" textLength="25.4" lengthAdjust="spacingAndGlyphs" fill="#5a5a5a">ID_H03161</text>
<text class="sl" transform="translate(378.47,364.2) rotate(-90)" font-size="4.8" text-anchor="end" textLength="25.4" lengthAdjust="spacingAndGlyphs" fill="#5a5a5a">ID_H03168</text>
<text class="sl" transform="translate(383.29,364.2) rotate(-90)" font-size="4.8" text-anchor="end" textLength="25.4" lengthAdjust="spacingAndGlyphs" fill="#5a5a5a">ID_H03175</text>
<text class="sl" transform="translate(392.71,364.2) rotate(-90)" font-size="4.8" text-anchor="end" textLength="25.4" lengthAdjust="spacingAndGlyphs" fill="#5a5a5a">ID_H03182</text>
<text class="sl" transform="translate(397.53,364.2) rotate(-90)" font-size="4.8" text-anchor="end" textLength="25.4" lengthAdjust="spacingAndGlyphs" fill="#5a5a5a">ID_H03189</text>
<text class="sl" transform="translate(407.11,364.2) rotate(-90)" font-size="4.8" text-anchor="end" textLength="25.4" lengthAdjust="spacingAndGlyphs" fill="#5a5a5a">ID_H03196</text>
<line x1="38.5" x2="38.5" y1="440.2" y2="522.5" stroke="#222" stroke-width="1.1"/>
<line x1="38.0" x2="149.2" y1="522.4" y2="522.4" stroke="#1a1a1a" stroke-width="1.3"/>
<line x1="35.5" x2="38.5" y1="514.4" y2="514.4" stroke="#222" stroke-width="0.9"/>
<text x="32.2" y="517.2" font-size="7.9" text-anchor="end" fill="#444444">1000</text>
<line x1="35.5" x2="38.5" y1="496.4" y2="496.4" stroke="#222" stroke-width="0.9"/>
<text x="32.2" y="499.2" font-size="7.9" text-anchor="end" fill="#444444">2000</text>
<line x1="35.5" x2="38.5" y1="478.4" y2="478.4" stroke="#222" stroke-width="0.9"/>
<text x="32.2" y="481.2" font-size="7.9" text-anchor="end" fill="#444444">3000</text>
<line x1="35.5" x2="38.5" y1="460.4" y2="460.4" stroke="#222" stroke-width="0.9"/>
<text x="32.2" y="463.2" font-size="7.9" text-anchor="end" fill="#444444">4000</text>
<line x1="35.5" x2="38.5" y1="442.4" y2="442.4" stroke="#222" stroke-width="0.9"/>
<text x="32.2" y="445.2" font-size="7.9" text-anchor="end" fill="#444444">5000</text>
<line x1="59.3" x2="59.3" y1="522.3" y2="525.3" stroke="#222" stroke-width="0.9"/>
<line x1="94.4" x2="94.4" y1="522.3" y2="525.3" stroke="#222" stroke-width="0.9"/>
<line x1="129.6" x2="129.6" y1="522.3" y2="525.3" stroke="#222" stroke-width="0.9"/>
<text class="yl" transform="translate(9.2,481.0) rotate(-90)" font-size="10.4" text-anchor="middle" textLength="44" lengthAdjust="spacingAndGlyphs" fill="#383838">Number SBS</text>
<text class="lt" x="59.3" y="535.2" font-size="8.6" text-anchor="middle" fill="#444444">de novo</text>
<text class="lt" x="59.3" y="545.5" font-size="8.6" text-anchor="middle" fill="#444444">AML</text>
<text class="lt" x="94.4" y="535.2" font-size="8.6" text-anchor="middle" fill="#444444">Mel Plat</text>
<text class="lt" x="94.4" y="545.5" font-size="8.6" text-anchor="middle" fill="#444444">tMN</text>
<text class="lt" x="129.6" y="535.2" font-size="8.6" text-anchor="middle" fill="#444444">other</text>
<text class="lt" x="129.6" y="545.5" font-size="8.6" text-anchor="middle" fill="#444444">tMN</text>
<line x1="59.8" x2="132.9" y1="430.5" y2="430.5" stroke="#1a1a1a" stroke-width="1.2" stroke-dasharray="3.2,1.6"/>
<line x1="59.8" x2="91.5" y1="442.6" y2="442.6" stroke="#1a1a1a" stroke-width="1.2" stroke-dasharray="3.2,1.6"/>
<line x1="97.7" x2="129" y1="442.6" y2="442.6" stroke="#1a1a1a" stroke-width="1.2" stroke-dasharray="3.2,1.6"/>
<text class="lt" x="82" y="428.2" font-size="7.8" text-anchor="start" fill="#444444"><tspan font-style="italic">P</tspan> = .492</text>
<text class="lt" x="60.8" y="441.0" font-size="7.8" text-anchor="start" fill="#444444"><tspan font-style="italic">P</tspan> = .006</text>
<text class="lt" x="99.6" y="441.0" font-size="7.8" text-anchor="start" fill="#444444"><tspan font-style="italic">P</tspan> = .023</text>
<line x1="59.5" x2="59.5" y1="492.3" y2="505.2" stroke="#2a2a2a" stroke-width="1"/>
<rect x="46.3" y="505.2" width="25.7" height="7.4" fill="#92d6c4"/>
<line x1="46.3" x2="72" y1="508.8" y2="508.8" stroke="#155a4c" stroke-width="1.3"/>
<circle cx="51.5" cy="492.1" r="1.75" fill="#1f7a66" stroke="#153a33" stroke-width="0.8"/>
<circle cx="54.2" cy="503.8" r="1.75" fill="#1f7a66" stroke="#153a33" stroke-width="0.8"/>
<circle cx="55.8" cy="503.5" r="1.75" fill="#1f7a66" stroke="#153a33" stroke-width="0.8"/>
<circle cx="52.3" cy="505.8" r="1.75" fill="#1f7a66" stroke="#153a33" stroke-width="0.8"/>
<circle cx="62.7" cy="503.1" r="1.75" fill="#1f7a66" stroke="#153a33" stroke-width="0.8"/>
<circle cx="63.0" cy="504.6" r="1.75" fill="#1f7a66" stroke="#153a33" stroke-width="0.8"/>
<circle cx="51.5" cy="507.3" r="1.75" fill="#1f7a66" stroke="#153a33" stroke-width="0.8"/>
<circle cx="55.0" cy="507.3" r="1.75" fill="#1f7a66" stroke="#153a33" stroke-width="0.8"/>
<circle cx="60.8" cy="509.5" r="1.75" fill="#1f7a66" stroke="#153a33" stroke-width="0.8"/>
<circle cx="69.6" cy="510.0" r="1.75" fill="#1f7a66" stroke="#153a33" stroke-width="0.8"/>
<circle cx="48.8" cy="512.7" r="1.75" fill="#1f7a66" stroke="#153a33" stroke-width="0.8"/>
<circle cx="58.8" cy="514.2" r="1.75" fill="#1f7a66" stroke="#153a33" stroke-width="0.8"/>
<circle cx="60.4" cy="515.8" r="1.75" fill="#1f7a66" stroke="#153a33" stroke-width="0.8"/>
<circle cx="63.8" cy="516.2" r="1.75" fill="#1f7a66" stroke="#153a33" stroke-width="0.8"/>
<circle cx="69.6" cy="515.8" r="1.75" fill="#1f7a66" stroke="#153a33" stroke-width="0.8"/>
<circle cx="51.9" cy="518.1" r="1.75" fill="#1f7a66" stroke="#153a33" stroke-width="0.8"/>
<circle cx="57.5" cy="508.6" r="1.75" fill="#1f7a66" stroke="#153a33" stroke-width="0.8"/>
<line x1="94.5" x2="94.5" y1="446.8" y2="517.5" stroke="#2a2a2a" stroke-width="1"/>
<rect x="80.9" y="483.4" width="26.2" height="24.2" fill="#7d98da"/>
<line x1="80.9" x2="107.1" y1="501.6" y2="501.6" stroke="#1b2a55" stroke-width="1.3"/>
<circle cx="90.2" cy="446.3" r="1.75" fill="#22315a" stroke="#111a2e" stroke-width="0.8"/>
<circle cx="84.9" cy="453.4" r="1.75" fill="#22315a" stroke="#111a2e" stroke-width="0.8"/>
<circle cx="99.9" cy="453.1" r="1.75" fill="#22315a" stroke="#111a2e" stroke-width="0.8"/>
<circle cx="87.0" cy="461.8" r="1.75" fill="#22315a" stroke="#111a2e" stroke-width="0.8"/>
<circle cx="103.2" cy="460.1" r="1.75" fill="#22315a" stroke="#111a2e" stroke-width="0.8"/>
<circle cx="88.8" cy="476.9" r="1.75" fill="#22315a" stroke="#111a2e" stroke-width="0.8"/>
<circle cx="93.0" cy="485.4" r="1.75" fill="#22315a" stroke="#111a2e" stroke-width="0.8"/>
<circle cx="94.0" cy="490.0" r="1.75" fill="#22315a" stroke="#111a2e" stroke-width="0.8"/>
<circle cx="97.1" cy="497.0" r="1.75" fill="#22315a" stroke="#111a2e" stroke-width="0.8"/>
<circle cx="101.5" cy="498.5" r="1.75" fill="#22315a" stroke="#111a2e" stroke-width="0.8"/>
<circle cx="87.0" cy="501.5" r="1.75" fill="#22315a" stroke="#111a2e" stroke-width="0.8"/>
<circle cx="96.8" cy="502.0" r="1.75" fill="#22315a" stroke="#111a2e" stroke-width="0.8"/>
<circle cx="100.0" cy="503.0" r="1.75" fill="#22315a" stroke="#111a2e" stroke-width="0.8"/>
<circle cx="102.5" cy="502.0" r="1.75" fill="#22315a" stroke="#111a2e" stroke-width="0.8"/>
<circle cx="99.0" cy="505.5" r="1.75" fill="#22315a" stroke="#111a2e" stroke-width="0.8"/>
<circle cx="84.6" cy="509.0" r="1.75" fill="#22315a" stroke="#111a2e" stroke-width="0.8"/>
<circle cx="85.1" cy="511.1" r="1.75" fill="#22315a" stroke="#111a2e" stroke-width="0.8"/>
<circle cx="94.7" cy="509.7" r="1.75" fill="#22315a" stroke="#111a2e" stroke-width="0.8"/>
<circle cx="100.0" cy="509.7" r="1.75" fill="#22315a" stroke="#111a2e" stroke-width="0.8"/>
<circle cx="92.3" cy="513.5" r="1.75" fill="#22315a" stroke="#111a2e" stroke-width="0.8"/>
<circle cx="99.0" cy="518.2" r="1.75" fill="#22315a" stroke="#111a2e" stroke-width="0.8"/>
<rect x="116.2" y="502.3" width="25.7" height="12.3" fill="#abd6ee"/>
<line x1="116.2" x2="141.9" y1="505.8" y2="505.8" stroke="#1b2f4a" stroke-width="1.3"/>
<circle cx="121.9" cy="499.6" r="1.75" fill="#a6d4ec" stroke="#183c50" stroke-width="1.0"/>
<circle cx="126.9" cy="499.1" r="1.75" fill="#a6d4ec" stroke="#183c50" stroke-width="1.0"/>
<circle cx="121.5" cy="501.9" r="1.75" fill="#a6d4ec" stroke="#183c50" stroke-width="1.0"/>
<circle cx="130.4" cy="502.3" r="1.75" fill="#a6d4ec" stroke="#183c50" stroke-width="1.0"/>
<circle cx="136.5" cy="501.5" r="1.75" fill="#a6d4ec" stroke="#183c50" stroke-width="1.0"/>
<circle cx="133.5" cy="503.8" r="1.75" fill="#a6d4ec" stroke="#183c50" stroke-width="1.0"/>
<circle cx="127.7" cy="506.2" r="1.75" fill="#a6d4ec" stroke="#183c50" stroke-width="1.0"/>
<circle cx="132.7" cy="505.8" r="1.75" fill="#a6d4ec" stroke="#183c50" stroke-width="1.0"/>
<circle cx="134.6" cy="510.4" r="1.75" fill="#a6d4ec" stroke="#183c50" stroke-width="1.0"/>
<circle cx="131.5" cy="511.2" r="1.75" fill="#a6d4ec" stroke="#183c50" stroke-width="1.0"/>
<circle cx="135.0" cy="514.6" r="1.75" fill="#a6d4ec" stroke="#183c50" stroke-width="1.0"/>
<circle cx="123.5" cy="515.8" r="1.75" fill="#a6d4ec" stroke="#183c50" stroke-width="1.0"/>
<circle cx="127.3" cy="517.7" r="1.75" fill="#a6d4ec" stroke="#183c50" stroke-width="1.0"/>
<circle cx="129.2" cy="518.1" r="1.75" fill="#a6d4ec" stroke="#183c50" stroke-width="1.0"/>
<circle cx="130.8" cy="518.5" r="1.75" fill="#a6d4ec" stroke="#183c50" stroke-width="1.0"/>
<line x1="214.5" x2="214.5" y1="443" y2="522.6" stroke="#222" stroke-width="1.1"/>
<line x1="214.0" x2="328.3" y1="522.4" y2="522.4" stroke="#1a1a1a" stroke-width="1.3"/>
<line x1="211.5" x2="214.5" y1="519.1" y2="519.1" stroke="#222" stroke-width="0.9"/>
<text x="208.6" y="521.9" font-size="7.9" text-anchor="end" fill="#444444">0</text>
<line x1="211.5" x2="214.5" y1="502.2" y2="502.2" stroke="#222" stroke-width="0.9"/>
<text x="208.6" y="505.1" font-size="7.9" text-anchor="end" fill="#444444">5</text>
<line x1="211.5" x2="214.5" y1="485.4" y2="485.4" stroke="#222" stroke-width="0.9"/>
<text x="208.6" y="488.2" font-size="7.9" text-anchor="end" fill="#444444">10</text>
<line x1="211.5" x2="214.5" y1="468.6" y2="468.6" stroke="#222" stroke-width="0.9"/>
<text x="208.6" y="471.4" font-size="7.9" text-anchor="end" fill="#444444">15</text>
<line x1="211.5" x2="214.5" y1="451.7" y2="451.7" stroke="#222" stroke-width="0.9"/>
<text x="208.6" y="454.5" font-size="7.9" text-anchor="end" fill="#444444">20</text>
<line x1="246.6" x2="246.6" y1="522.3" y2="525.3" stroke="#222" stroke-width="0.9"/>
<line x1="302.0" x2="302.0" y1="522.3" y2="525.3" stroke="#222" stroke-width="0.9"/>
<text class="yl" transform="translate(192.7,481.8) rotate(-90)" font-size="8.7" text-anchor="middle" textLength="63.6" lengthAdjust="spacingAndGlyphs" fill="#383838">E-DBS3 + E-DBS9</text>
<text class="lt" x="246.6" y="535.0" font-size="8.6" text-anchor="middle" fill="#444444">tMN</text>
<text class="lt" x="246.6" y="545.2" font-size="8.6" text-anchor="middle" fill="#444444">no Platinum</text>
<text class="lt" x="302.0" y="535.0" font-size="8.6" text-anchor="middle" fill="#444444">tMN</text>
<text class="lt" x="302.0" y="545.2" font-size="8.6" text-anchor="middle" fill="#444444">Platinum</text>
<line x1="240.4" x2="300.2" y1="442.5" y2="442.5" stroke="#1a1a1a" stroke-width="1.2" stroke-dasharray="3.2,1.6"/>
<text x="270.5" y="437.2" font-size="7.6" text-anchor="middle" fill="#444444">P &lt; .001</text>
<line x1="302.4" x2="302.4" y1="446.6" y2="473.8" stroke="#2a2a2a" stroke-width="1"/>
<line x1="302" x2="302" y1="514.8" y2="519" stroke="#333" stroke-width="0.9" stroke-dasharray="1.5,1"/>
<rect x="281.8" y="473.8" width="40.9" height="41" fill="#92ce8c"/>
<line x1="281.8" x2="322.7" y1="511.5" y2="511.5" stroke="#1d3d1d" stroke-width="1.3"/>
<line x1="226" x2="267" y1="518.5" y2="518.5" stroke="#1b2a40" stroke-width="1.3"/>
<circle cx="230.5" cy="518.6" r="1.75" fill="#3566ad" stroke="#121c30" stroke-width="0.9"/>
<circle cx="233.8" cy="518.6" r="1.75" fill="#3566ad" stroke="#121c30" stroke-width="0.9"/>
<circle cx="237.1" cy="518.6" r="1.75" fill="#3566ad" stroke="#121c30" stroke-width="0.9"/>
<circle cx="243.8" cy="518.6" r="1.75" fill="#3566ad" stroke="#121c30" stroke-width="0.9"/>
<circle cx="247.1" cy="518.6" r="1.75" fill="#3566ad" stroke="#121c30" stroke-width="0.9"/>
<circle cx="250.4" cy="518.6" r="1.75" fill="#3566ad" stroke="#121c30" stroke-width="0.9"/>
<circle cx="253.7" cy="518.6" r="1.75" fill="#3566ad" stroke="#121c30" stroke-width="0.9"/>
<circle cx="257.0" cy="518.6" r="1.75" fill="#3566ad" stroke="#121c30" stroke-width="0.9"/>
<circle cx="260.4" cy="518.6" r="1.75" fill="#3566ad" stroke="#121c30" stroke-width="0.9"/>
<circle cx="262.6" cy="518.6" r="1.75" fill="#3566ad" stroke="#121c30" stroke-width="0.9"/>
<circle cx="308.6" cy="446.6" r="1.75" fill="#2f7a3a" stroke="#142c18" stroke-width="0.8"/>
<circle cx="297.3" cy="472.1" r="1.75" fill="#2f7a3a" stroke="#142c18" stroke-width="0.8"/>
<circle cx="306.8" cy="473.6" r="1.75" fill="#2f7a3a" stroke="#142c18" stroke-width="0.8"/>
<circle cx="317.9" cy="502.6" r="1.75" fill="#2f7a3a" stroke="#142c18" stroke-width="0.8"/>
<circle cx="292.0" cy="511.2" r="1.75" fill="#2f7a3a" stroke="#142c18" stroke-width="0.8"/>
<circle cx="286.2" cy="514.1" r="1.75" fill="#2f7a3a" stroke="#142c18" stroke-width="0.8"/>
<circle cx="306.8" cy="514.8" r="1.75" fill="#2f7a3a" stroke="#142c18" stroke-width="0.8"/>
<circle cx="286.9" cy="518.1" r="1.75" fill="#2f7a3a" stroke="#142c18" stroke-width="0.8"/>
<circle cx="310.6" cy="518.1" r="1.75" fill="#2f7a3a" stroke="#142c18" stroke-width="0.8"/>
<line x1="403.5" x2="403.5" y1="443.8" y2="522.8" stroke="#222" stroke-width="1.1"/>
<line x1="403.0" x2="519" y1="522.6" y2="522.6" stroke="#1a1a1a" stroke-width="1.3"/>
<line x1="400.5" x2="403.5" y1="518.5" y2="518.5" stroke="#222" stroke-width="0.9"/>
<text x="398.2" y="521.3" font-size="7.9" text-anchor="end" fill="#444444">0</text>
<line x1="400.5" x2="403.5" y1="500.3" y2="500.3" stroke="#222" stroke-width="0.9"/>
<text x="398.2" y="503.1" font-size="7.9" text-anchor="end" fill="#444444">25</text>
<line x1="400.5" x2="403.5" y1="482.1" y2="482.1" stroke="#222" stroke-width="0.9"/>
<text x="398.2" y="484.9" font-size="7.9" text-anchor="end" fill="#444444">50</text>
<line x1="400.5" x2="403.5" y1="464.0" y2="464.0" stroke="#222" stroke-width="0.9"/>
<text x="398.2" y="466.8" font-size="7.9" text-anchor="end" fill="#444444">75</text>
<line x1="400.5" x2="403.5" y1="445.8" y2="445.8" stroke="#222" stroke-width="0.9"/>
<text x="398.2" y="448.6" font-size="7.9" text-anchor="end" fill="#444444">100</text>
<line x1="425.4" x2="425.4" y1="522.6" y2="525.6" stroke="#222" stroke-width="0.9"/>
<line x1="461.4" x2="461.4" y1="522.6" y2="525.6" stroke="#222" stroke-width="0.9"/>
<line x1="498.1" x2="498.1" y1="522.6" y2="525.6" stroke="#222" stroke-width="0.9"/>
<text class="yl" transform="translate(378.9,482.6) rotate(-90)" font-size="9.5" text-anchor="middle" textLength="35.2" lengthAdjust="spacingAndGlyphs" fill="#383838">ID8 indels</text>
<text class="lt" transform="translate(428.8,532.0) rotate(-45)" font-size="8.8" text-anchor="end" textLength="52.5" lengthAdjust="spacingAndGlyphs" fill="#444444">de novo AML</text>
<text class="lt" transform="translate(466.4,533.6) rotate(-45)" font-size="8.8" text-anchor="end" textLength="74.5" lengthAdjust="spacingAndGlyphs" fill="#444444">tMN chemo–mutated</text>
<text class="lt" transform="translate(501.4,534.8) rotate(-45)" font-size="8.8" text-anchor="end" textLength="94.0" lengthAdjust="spacingAndGlyphs" fill="#444444">tMN no chemo signatures</text>
<line x1="426.5" x2="500.4" y1="460.5" y2="460.5" stroke="#1a1a1a" stroke-width="1.2" stroke-dasharray="3.2,1.6"/>
<line x1="461.8" x2="501.5" y1="474.5" y2="474.5" stroke="#1a1a1a" stroke-width="1.2" stroke-dasharray="3.2,1.6"/>
<line x1="425.4" x2="458.8" y1="481.5" y2="481.5" stroke="#1a1a1a" stroke-width="1.2" stroke-dasharray="3.2,1.6"/>
<text class="lt" x="449.2" y="457.8" font-size="7.8" text-anchor="start" fill="#444444"><tspan font-style="italic">P</tspan> = .361</text>
<text class="lt" x="468" y="472.1" font-size="7.8" text-anchor="start" fill="#444444"><tspan font-style="italic">P</tspan> = .004</text>
<text class="lt" x="427.7" y="479.3" font-size="7.8" text-anchor="start" fill="#444444"><tspan font-style="italic">P</tspan> &lt; .001</text>
<rect x="411.5" y="516.6" width="26.5" height="2.4" fill="#9ad8c8"/>
<line x1="411.5" x2="438" y1="518.3" y2="518.3" stroke="#155a4c" stroke-width="1.1"/>
<circle cx="415.1" cy="518.2" r="1.5" fill="#2f9c84" stroke="#14443a" stroke-width="0.9"/>
<circle cx="418.0" cy="517.6" r="1.5" fill="#2f9c84" stroke="#14443a" stroke-width="0.9"/>
<circle cx="420.2" cy="518.2" r="1.5" fill="#2f9c84" stroke="#14443a" stroke-width="0.9"/>
<circle cx="425.2" cy="518.2" r="1.5" fill="#2f9c84" stroke="#14443a" stroke-width="0.9"/>
<circle cx="427.4" cy="517.6" r="1.5" fill="#2f9c84" stroke="#14443a" stroke-width="0.9"/>
<circle cx="430.3" cy="518.2" r="1.5" fill="#2f9c84" stroke="#14443a" stroke-width="0.9"/>
<circle cx="433.9" cy="518.2" r="1.5" fill="#2f9c84" stroke="#14443a" stroke-width="0.9"/>
<circle cx="436.0" cy="518.2" r="1.5" fill="#2f9c84" stroke="#14443a" stroke-width="0.9"/>
<circle cx="433.1" cy="510.6" r="1.5" fill="#2f9c84" stroke="#14443a" stroke-width="0.9"/>
<circle cx="433.4" cy="514.3" r="1.5" fill="#2f9c84" stroke="#14443a" stroke-width="0.9"/>
<circle cx="432.6" cy="516.0" r="1.5" fill="#2f9c84" stroke="#14443a" stroke-width="0.9"/>
<line x1="461.5" x2="461.5" y1="487.5" y2="498.6" stroke="#2a2a2a" stroke-width="1"/>
<rect x="448.3" y="498.6" width="27.1" height="20.4" fill="#90cbe8"/>
<line x1="448.3" x2="475.4" y1="504.3" y2="504.3" stroke="#1b2f4a" stroke-width="1.3"/>
<circle cx="457.2" cy="446.5" r="1.5" fill="#a09a86" stroke="#8a8470" stroke-width="0.6"/>
<circle cx="451.2" cy="502.4" r="1.5" fill="#5aaad4" stroke="#173449" stroke-width="0.9"/>
<circle cx="460.6" cy="500.9" r="1.5" fill="#5aaad4" stroke="#173449" stroke-width="0.9"/>
<circle cx="462.0" cy="498.8" r="1.5" fill="#5aaad4" stroke="#173449" stroke-width="0.9"/>
<circle cx="466.3" cy="490.8" r="1.5" fill="#5aaad4" stroke="#173449" stroke-width="0.9"/>
<circle cx="469.2" cy="487.5" r="1.5" fill="#5aaad4" stroke="#173449" stroke-width="0.9"/>
<circle cx="466.3" cy="504.6" r="1.5" fill="#d6ecf6" stroke="#173449" stroke-width="0.9"/>
<circle cx="470.7" cy="504.6" r="1.5" fill="#d6ecf6" stroke="#173449" stroke-width="0.9"/>
<circle cx="470.7" cy="518.2" r="1.5" fill="#d6ecf6" stroke="#173449" stroke-width="0.9"/>
<circle cx="468.5" cy="497.3" r="1.4" fill="#c8a878" stroke="#a08050" stroke-width="0.6"/>
<circle cx="466.3" cy="511.5" r="1.4" fill="#a8ae98" stroke="#8a9080" stroke-width="0.6"/>
<circle cx="452.6" cy="518.2" r="1.4" fill="#a8ae98" stroke="#8a9080" stroke-width="0.6"/>
<circle cx="455.5" cy="518.2" r="1.4" fill="#a8ae98" stroke="#8a9080" stroke-width="0.6"/>
<circle cx="458.4" cy="518.2" r="1.4" fill="#a8ae98" stroke="#8a9080" stroke-width="0.6"/>
<rect x="484.5" y="513.8" width="27.3" height="5.1" fill="#5a78c0"/>
<line x1="484.5" x2="511.8" y1="518.2" y2="518.2" stroke="#1b2a55" stroke-width="1.2"/>
<circle cx="491.5" cy="502.5" r="1.4" fill="#22305a" stroke="#0f1630" stroke-width="0.9"/>
<circle cx="494.2" cy="511.2" r="1.4" fill="#22305a" stroke="#0f1630" stroke-width="0.9"/>
<circle cx="496.1" cy="513.1" r="1.4" fill="#22305a" stroke="#0f1630" stroke-width="0.9"/>
<circle cx="486.5" cy="518.2" r="1.4" fill="#22305a" stroke="#0f1630" stroke-width="0.9"/>
<circle cx="489.5" cy="518.2" r="1.4" fill="#22305a" stroke="#0f1630" stroke-width="0.9"/>
<circle cx="493.0" cy="518.2" r="1.4" fill="#22305a" stroke="#0f1630" stroke-width="0.9"/>
<circle cx="498.0" cy="518.2" r="1.4" fill="#22305a" stroke="#0f1630" stroke-width="0.9"/>
<circle cx="502.0" cy="518.2" r="1.4" fill="#22305a" stroke="#0f1630" stroke-width="0.9"/>
<circle cx="506.0" cy="518.2" r="1.4" fill="#22305a" stroke="#0f1630" stroke-width="0.9"/>
<circle cx="509.0" cy="518.2" r="1.4" fill="#22305a" stroke="#0f1630" stroke-width="0.9"/>
<circle cx="504.9" cy="504.6" r="1.4" fill="#7a5a34" stroke="#3e2c18" stroke-width="0.8"/>
<circle cx="499.9" cy="509.6" r="1.4" fill="#7a5a34" stroke="#3e2c18" stroke-width="0.8"/>
<circle cx="505.3" cy="513.5" r="1.4" fill="#7a5a34" stroke="#3e2c18" stroke-width="0.8"/>
<circle cx="507.5" cy="515.2" r="1.4" fill="#7a5a34" stroke="#3e2c18" stroke-width="0.8"/>
</svg>
</body></html>
